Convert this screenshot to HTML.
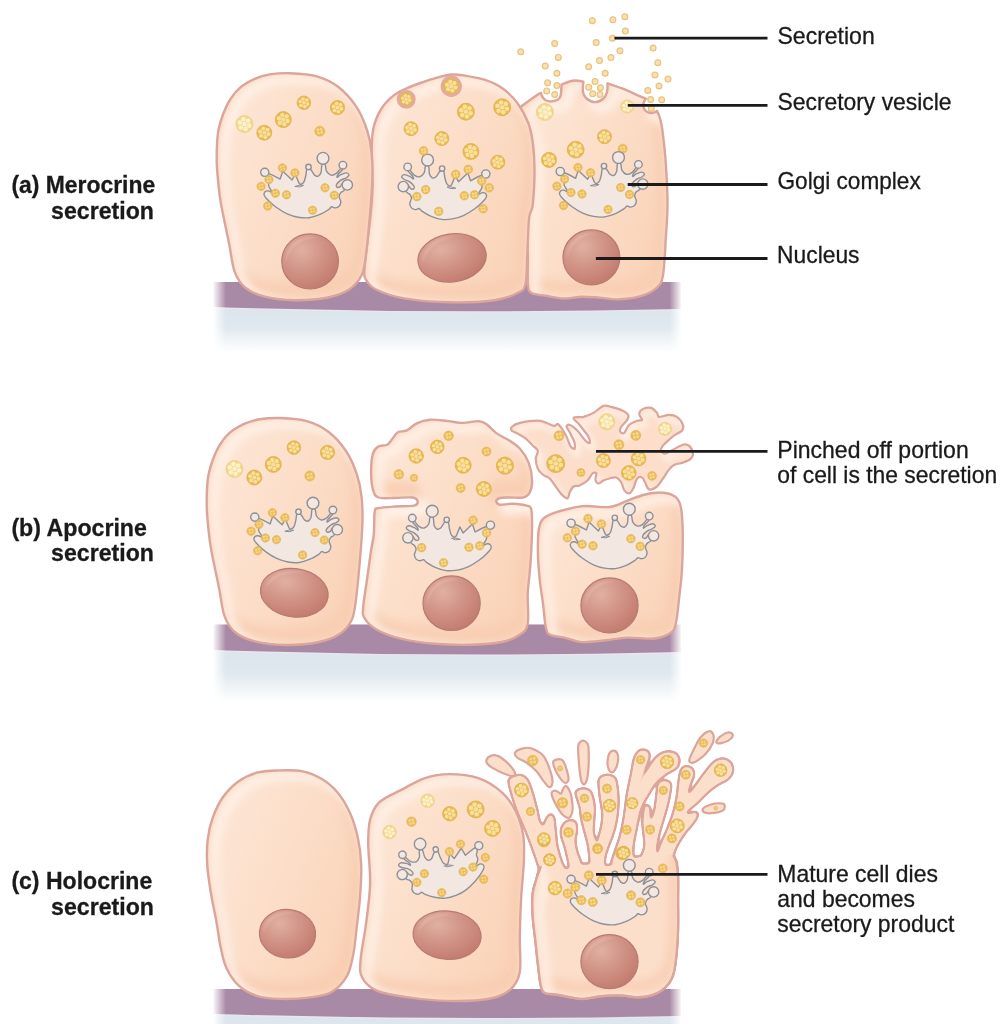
<!DOCTYPE html>
<html><head><meta charset="utf-8"><title>Modes of glandular secretion</title>
<style>
html,body{margin:0;padding:0;background:#fff;}
body{width:1006px;height:1024px;overflow:hidden;font-family:"Liberation Sans",sans-serif;}
svg{display:block;}
text{font-family:"Liberation Sans",sans-serif;fill:#1a1a1a;}
</style></head>
<body>
<svg width="1006" height="1024" viewBox="0 0 1006 1024">

<defs>
  <linearGradient id="blueg" x1="0" y1="0" x2="0" y2="1">
    <stop offset="0" stop-color="#dbe5ec"/>
    <stop offset="0.45" stop-color="#dfe8ee"/>
    <stop offset="1" stop-color="#ffffff"/>
  </linearGradient>
  <linearGradient id="fadeLR" x1="0" y1="0" x2="1" y2="0">
    <stop offset="0" stop-color="#fff" stop-opacity="1"/>
    <stop offset="1" stop-color="#fff" stop-opacity="0"/>
  </linearGradient>
  <linearGradient id="fadeRL" x1="0" y1="0" x2="1" y2="0">
    <stop offset="0" stop-color="#fff" stop-opacity="0"/>
    <stop offset="1" stop-color="#fff" stop-opacity="1"/>
  </linearGradient>
  <radialGradient id="nucg" cx="0.35" cy="0.3" r="0.8">
    <stop offset="0" stop-color="#e0b0a1"/>
    <stop offset="0.5" stop-color="#d09284"/>
    <stop offset="1" stop-color="#c1776c"/>
  </radialGradient>
  <linearGradient id="cellg" x1="0" y1="0" x2="1" y2="0.6">
    <stop offset="0" stop-color="#fde8d9"/>
    <stop offset="0.5" stop-color="#fcdfca"/>
    <stop offset="1" stop-color="#fad4b9"/>
  </linearGradient>
  <filter id="blur1" x="-20%" y="-20%" width="140%" height="140%"><feGaussianBlur stdDeviation="1.2"/></filter>
  <filter id="blur3" x="-20%" y="-20%" width="140%" height="140%"><feGaussianBlur stdDeviation="3"/></filter>
  <filter id="blur4" x="-20%" y="-20%" width="140%" height="140%"><feGaussianBlur stdDeviation="4"/></filter>
  <filter id="outl" filterUnits="userSpaceOnUse" x="470" y="720" width="300" height="304" color-interpolation-filters="sRGB">
    <feGaussianBlur in="SourceAlpha" stdDeviation="1.5" result="b"/>
    <feComponentTransfer in="b" result="outer"><feFuncA type="linear" slope="7" intercept="-1.0"/></feComponentTransfer>
    <feComponentTransfer in="b" result="inner"><feFuncA type="linear" slope="7" intercept="-5.0"/></feComponentTransfer>
    <feFlood flood-color="#dba59b" result="sc"/>
    <feComposite in="sc" in2="outer" operator="in" result="strokeL"/>
    <feFlood flood-color="#fcdfcb" result="fc"/>
    <feComposite in="fc" in2="inner" operator="in" result="fillL"/>
    <feMerge><feMergeNode in="strokeL"/><feMergeNode in="fillL"/></feMerge>
  </filter>
</defs>

<rect x="213.5" y="306" width="467.5" height="46" fill="url(#blueg)"/>
<path d="M213.5,282 L681,282 L681,310.3 Q447.25,315.7 213.5,308.3Z" fill="#ece6f1"/>
<path d="M213.5,282 L681,282 L681,309 Q447.25,314.4 213.5,307Z" fill="#a98aa6"/>
<rect x="212.5" y="280" width="13.5" height="74" fill="url(#fadeLR)"/>
<rect x="669.5" y="280" width="12.5" height="74" fill="url(#fadeRL)"/>
<rect x="213.5" y="649" width="467.5" height="53" fill="url(#blueg)"/>
<path d="M213.5,624.5 L681,624.5 L681,653.3 Q447.25,659.3 213.5,651.3Z" fill="#ece6f1"/>
<path d="M213.5,624.5 L681,624.5 L681,652 Q447.25,658.0 213.5,650Z" fill="#a98aa6"/>
<rect x="212.5" y="622.5" width="13.5" height="81.5" fill="url(#fadeLR)"/>
<rect x="669.5" y="622.5" width="12.5" height="81.5" fill="url(#fadeRL)"/>
<rect x="213.5" y="1013" width="467.5" height="53" fill="url(#blueg)"/>
<path d="M213.5,989 L681,989 L681,1017.3 Q447.25,1022.3 213.5,1015.3Z" fill="#ece6f1"/>
<path d="M213.5,989 L681,989 L681,1016 Q447.25,1021.0 213.5,1014Z" fill="#a98aa6"/>
<rect x="212.5" y="987" width="13.5" height="81" fill="url(#fadeLR)"/>
<rect x="669.5" y="987" width="12.5" height="81" fill="url(#fadeRL)"/>
<defs><path id="c1" d="M519.8,107.5 C519.8,107.5 535.1,96.5 538.6,94.1 C542.1,91.7 541.0,93.0 541.0,93.0 C541.0,93.0 541.7,95.8 542.5,97.0 C543.3,98.2 544.5,99.8 546.0,100.5 C547.5,101.2 549.7,101.5 551.5,101.4 C553.3,101.3 555.5,100.9 557.0,100.0 C558.5,99.1 559.8,98.6 560.5,96.0 C561.2,93.4 561.5,84.5 561.5,84.5 C561.5,84.5 569.0,81.2 572.6,80.7 C576.2,80.2 583.4,81.6 583.4,81.6 C583.4,81.6 582.5,89.2 583.0,92.0 C583.5,94.8 584.5,96.8 586.5,98.5 C588.5,100.2 592.2,102.1 595.0,102.1 C597.8,102.1 601.5,100.2 603.5,98.5 C605.5,96.8 606.3,94.5 607.0,92.0 C607.7,89.5 607.5,83.4 607.5,83.4 C607.5,83.4 620.9,87.9 625.9,89.9 C630.9,91.9 634.5,94.0 637.8,95.4 C641.1,96.9 645.8,98.6 645.8,98.6 C645.8,98.6 643.7,101.8 643.4,103.4 C643.1,105.0 643.1,106.8 643.8,108.2 C644.5,109.7 645.9,111.3 647.4,112.1 C648.9,112.9 651.3,113.1 652.9,112.9 C654.5,112.7 656.9,111.0 656.9,111.0 C656.9,111.0 658.5,113.6 659.3,116.1 C660.1,118.5 661.1,122.5 661.7,125.7 C662.3,128.9 662.3,129.1 663.0,135.2 C663.7,141.3 665.0,150.7 665.7,162.1 C666.5,173.5 667.5,190.8 667.5,203.7 C667.5,216.6 666.5,227.6 665.7,239.5 C665.0,251.4 664.5,267.1 663.0,275.2 C661.5,283.2 660.7,284.2 656.7,287.8 C652.7,291.4 645.3,294.8 638.8,296.7 C632.2,298.6 623.9,299.2 617.4,299.4 C610.9,299.5 605.5,298.1 599.5,297.6 C593.5,297.2 587.6,296.6 581.6,296.7 C575.6,296.8 569.7,298.6 563.7,298.5 C557.7,298.4 551.2,296.7 545.8,295.8 C540.4,294.9 534.5,295.0 531.5,293.1 C528.5,291.2 528.5,290.1 527.9,284.2 C527.3,278.2 528.0,267.8 527.9,257.4 C527.8,247.0 526.5,233.5 527.0,221.6 C527.5,209.7 529.7,197.2 530.6,185.8 C531.5,174.4 532.9,163.0 532.4,153.1 C531.9,143.2 530.0,133.9 527.9,126.3 C525.8,118.7 519.8,107.5 519.8,107.5Z"/><clipPath id="kc1"><use href="#c1"/></clipPath></defs>
<use href="#c1" fill="url(#cellg)"/>
<g clip-path="url(#kc1)" fill="none"><use href="#c1" stroke="#f8ccb0" stroke-width="12" opacity="0.8" filter="url(#blur4)" transform="translate(-3,-11)"/><use href="#c1" stroke="#f9d2b8" stroke-width="7" opacity="0.5" filter="url(#blur3)"/><use href="#c1" stroke="#fff3ea" stroke-width="9" opacity="0.9" filter="url(#blur4)" transform="translate(7,6)"/></g>
<use href="#c1" fill="none" stroke="#dba59b" stroke-width="2.4" stroke-linejoin="round"/>
<defs><path id="c2" d="M451.3,74.5 C447.1,74.8 444.1,75.7 438.7,77.2 C433.3,78.7 424.4,81.6 419.0,83.5 C413.6,85.4 410.2,86.7 406.0,88.6 C401.8,90.5 398.1,91.8 394.0,95.1 C389.9,98.4 384.9,103.0 381.5,108.5 C378.1,114.0 375.0,121.0 373.4,128.2 C371.8,135.4 371.8,141.7 371.6,151.5 C371.5,161.3 372.6,176.8 372.5,187.2 C372.4,197.6 371.4,206.0 370.7,214.1 C370.0,222.2 369.1,226.8 368.1,235.8 C367.1,244.8 364.9,260.9 364.5,268.0 C364.1,275.1 363.5,275.1 365.4,278.7 C367.3,282.3 369.6,286.2 376.1,289.5 C382.7,292.8 392.5,296.3 404.7,298.4 C416.9,300.5 434.6,302.0 449.5,302.3 C464.4,302.6 482.9,301.8 494.2,300.2 C505.5,298.6 512.3,295.7 517.5,293.0 C522.7,290.3 523.9,290.7 525.5,284.1 C527.1,277.6 526.7,264.7 527.3,253.7 C527.9,242.7 528.2,226.0 529.1,217.9 C530.0,209.8 531.8,213.2 532.7,205.1 C533.6,197.0 534.5,179.8 534.5,169.4 C534.5,159.0 533.8,150.3 532.7,142.5 C531.7,134.7 530.7,129.3 528.2,122.8 C525.7,116.2 521.7,108.9 517.5,103.2 C513.3,97.5 508.5,92.7 503.1,88.8 C497.7,84.9 491.8,82.1 485.2,79.9 C478.6,77.7 469.4,76.3 463.8,75.4 C458.2,74.5 455.5,74.2 451.3,74.5Z"/><clipPath id="kc2"><use href="#c2"/></clipPath></defs>
<use href="#c2" fill="url(#cellg)"/>
<g clip-path="url(#kc2)" fill="none"><use href="#c2" stroke="#f8ccb0" stroke-width="12" opacity="0.8" filter="url(#blur4)" transform="translate(-3,-11)"/><use href="#c2" stroke="#f9d2b8" stroke-width="7" opacity="0.5" filter="url(#blur3)"/><use href="#c2" stroke="#fff3ea" stroke-width="9" opacity="0.9" filter="url(#blur4)" transform="translate(7,6)"/></g>
<use href="#c2" fill="none" stroke="#dba59b" stroke-width="2.4" stroke-linejoin="round"/>
<defs><path id="c3" d="M290.1,73.2 C282.2,72.9 275.5,73.5 269.6,74.4 C263.7,75.4 259.7,76.7 254.7,78.9 C249.7,81.2 243.9,84.4 239.8,87.9 C235.7,91.4 232.7,95.3 229.9,99.8 C227.1,104.3 224.8,109.7 222.9,114.7 C221.0,119.7 219.5,125.0 218.5,130.0 C217.5,135.0 217.3,138.8 217.0,144.5 C216.7,150.2 216.6,157.7 216.8,164.4 C217.1,171.2 217.8,178.2 218.5,185.0 C219.2,191.8 219.4,195.2 221.2,205.1 C223.0,215.0 227.1,233.6 229.3,244.7 C231.5,255.8 231.9,264.4 234.6,271.6 C237.3,278.8 240.3,283.5 245.4,287.7 C250.5,291.9 256.6,294.5 265.0,296.6 C273.4,298.7 285.1,300.1 295.5,300.2 C305.9,300.3 318.8,299.3 327.7,297.5 C336.6,295.7 343.4,293.2 349.1,289.5 C354.8,285.8 358.9,281.1 361.7,275.1 C364.5,269.1 364.8,263.2 366.1,253.7 C367.4,244.2 368.6,230.5 369.7,217.9 C370.8,205.3 372.1,189.4 372.4,178.3 C372.7,167.2 372.4,159.6 371.5,151.5 C370.6,143.4 369.5,137.5 367.0,130.0 C364.5,122.5 361.1,113.9 356.3,106.7 C351.5,99.5 345.0,92.1 338.4,87.0 C331.8,81.9 324.9,78.6 316.9,76.3 C308.8,74.0 298.0,73.5 290.1,73.2Z"/><clipPath id="kc3"><use href="#c3"/></clipPath></defs>
<use href="#c3" fill="url(#cellg)"/>
<g clip-path="url(#kc3)" fill="none"><use href="#c3" stroke="#f8ccb0" stroke-width="12" opacity="0.8" filter="url(#blur4)" transform="translate(-3,-11)"/><use href="#c3" stroke="#f9d2b8" stroke-width="7" opacity="0.5" filter="url(#blur3)"/><use href="#c3" stroke="#fff3ea" stroke-width="9" opacity="0.9" filter="url(#blur4)" transform="translate(7,6)"/></g>
<use href="#c3" fill="none" stroke="#dba59b" stroke-width="2.4" stroke-linejoin="round"/>
<circle cx="303.9" cy="102.8" r="6.8" fill="#e7ba52" stroke="#dfb04c" stroke-width="0.8"/>
<circle cx="303.9" cy="102.8" r="1.8" fill="#f8df9c"/>
<circle cx="307.7" cy="104.0" r="1.8" fill="#f8df9c"/>
<circle cx="304.8" cy="106.6" r="1.8" fill="#f8df9c"/>
<circle cx="301.0" cy="105.5" r="1.8" fill="#f8df9c"/>
<circle cx="300.1" cy="101.6" r="1.8" fill="#f8df9c"/>
<circle cx="303.0" cy="99.0" r="1.8" fill="#f8df9c"/>
<circle cx="306.8" cy="100.1" r="1.8" fill="#f8df9c"/>
<circle cx="337.5" cy="107.6" r="7.1" fill="#e7ba52" stroke="#dfb04c" stroke-width="0.8"/>
<circle cx="337.5" cy="107.6" r="1.9" fill="#f8df9c"/>
<circle cx="341.4" cy="108.8" r="1.9" fill="#f8df9c"/>
<circle cx="338.4" cy="111.6" r="1.9" fill="#f8df9c"/>
<circle cx="334.5" cy="110.4" r="1.9" fill="#f8df9c"/>
<circle cx="333.6" cy="106.4" r="1.9" fill="#f8df9c"/>
<circle cx="336.6" cy="103.6" r="1.9" fill="#f8df9c"/>
<circle cx="340.5" cy="104.8" r="1.9" fill="#f8df9c"/>
<circle cx="283.3" cy="119.6" r="8.0" fill="#e7ba52" stroke="#dfb04c" stroke-width="0.8"/>
<circle cx="283.3" cy="119.6" r="2.2" fill="#f8df9c"/>
<circle cx="287.7" cy="121.0" r="2.2" fill="#f8df9c"/>
<circle cx="284.3" cy="124.1" r="2.2" fill="#f8df9c"/>
<circle cx="279.9" cy="122.8" r="2.2" fill="#f8df9c"/>
<circle cx="278.9" cy="118.2" r="2.2" fill="#f8df9c"/>
<circle cx="282.3" cy="115.1" r="2.2" fill="#f8df9c"/>
<circle cx="286.7" cy="116.4" r="2.2" fill="#f8df9c"/>
<circle cx="244.5" cy="124.1" r="8.5" fill="#f1d68c" stroke="#ecd088" stroke-width="0.8"/>
<circle cx="244.5" cy="124.1" r="2.3" fill="#fcf0c8"/>
<circle cx="249.2" cy="125.6" r="2.3" fill="#fcf0c8"/>
<circle cx="245.6" cy="128.9" r="2.3" fill="#fcf0c8"/>
<circle cx="240.9" cy="127.5" r="2.3" fill="#fcf0c8"/>
<circle cx="239.8" cy="122.6" r="2.3" fill="#fcf0c8"/>
<circle cx="243.4" cy="119.3" r="2.3" fill="#fcf0c8"/>
<circle cx="248.1" cy="120.7" r="2.3" fill="#fcf0c8"/>
<circle cx="264.3" cy="132.7" r="7.5" fill="#e7ba52" stroke="#dfb04c" stroke-width="0.8"/>
<circle cx="264.3" cy="132.7" r="2.0" fill="#f8df9c"/>
<circle cx="268.5" cy="134.0" r="2.0" fill="#f8df9c"/>
<circle cx="265.3" cy="136.9" r="2.0" fill="#f8df9c"/>
<circle cx="261.1" cy="135.7" r="2.0" fill="#f8df9c"/>
<circle cx="260.1" cy="131.4" r="2.0" fill="#f8df9c"/>
<circle cx="263.3" cy="128.5" r="2.0" fill="#f8df9c"/>
<circle cx="267.5" cy="129.7" r="2.0" fill="#f8df9c"/>
<circle cx="319.8" cy="131.2" r="5.0" fill="#eabc5a" stroke="#e3b352" stroke-width="0.6"/>
<circle cx="321.7" cy="132.5" r="1.4" fill="#f6d88c"/>
<circle cx="318.5" cy="133.1" r="1.4" fill="#f6d88c"/>
<circle cx="317.9" cy="129.9" r="1.4" fill="#f6d88c"/>
<circle cx="321.1" cy="129.3" r="1.4" fill="#f6d88c"/>
<g transform="translate(259.7,152.4) scale(1.0,1.0)"><path d="M8.9,21.2 C11.0,21.5 20.4,26.7 20.4,26.7 C20.4,26.7 23.1,18.8 23.1,18.8 C23.1,18.8 32.4,27.6 32.4,27.6 C32.4,27.6 35.7,21.6 35.7,21.6 C35.7,21.6 38.5,29.2 39.5,30.9 C40.5,32.6 40.9,32.0 41.7,31.7 C42.5,31.4 43.7,30.6 44.4,29.2 C45.1,27.8 45.6,25.2 46.1,23.2 C46.6,21.2 46.4,18.2 47.2,17.2 C48.0,16.2 49.7,16.3 51.0,17.2 C52.3,18.1 53.5,21.6 54.8,22.7 C56.1,23.8 57.5,24.3 58.6,23.8 C59.7,23.3 60.8,21.8 61.4,19.9 C62.0,18.0 61.6,13.6 62.3,12.3 C63.0,11.0 64.8,11.2 65.5,12.3 C66.2,13.4 65.8,17.1 66.8,18.8 C67.8,20.5 69.5,22.3 71.2,22.7 C72.9,23.1 75.1,22.1 76.7,21.0 C78.3,19.9 80.1,16.7 81.1,16.1 C82.1,15.5 83.2,16.2 82.7,17.2 C82.2,18.2 79.2,20.8 78.3,22.1 C77.4,23.4 77.0,24.9 77.5,24.9 C78.0,24.9 79.6,23.0 81.1,22.3 C82.6,21.6 85.1,20.4 86.5,20.5 C87.9,20.6 89.3,21.9 89.3,22.7 C89.3,23.5 87.9,24.5 86.5,25.4 C85.1,26.2 82.7,26.7 81.1,27.8 C79.5,28.9 77.6,30.9 76.9,32.0 C76.2,33.1 76.7,34.3 77.2,34.7 C77.8,35.1 79.2,35.1 80.2,34.5 C81.2,33.9 82.5,30.4 83.2,30.9 C83.9,31.4 84.9,35.8 84.6,37.4 C84.2,39.0 82.0,39.1 81.1,40.2 C80.2,41.3 79.4,42.5 79.4,44.0 C79.4,45.5 81.1,47.9 81.1,49.5 C81.1,51.1 80.3,52.8 79.4,53.8 C78.5,54.8 76.9,55.4 75.6,55.5 C74.3,55.6 72.9,54.1 71.8,54.4 C70.7,54.7 70.9,55.8 69.0,57.1 C67.1,58.4 63.6,60.6 60.3,62.0 C57.0,63.4 52.9,64.8 49.3,65.3 C45.6,65.8 42.0,65.4 38.4,64.8 C34.8,64.2 31.1,63.1 27.5,61.5 C23.9,59.9 19.6,57.1 16.5,54.9 C13.4,52.7 10.9,50.4 8.9,48.4 C6.9,46.4 5.1,44.4 4.5,42.9 C3.9,41.4 4.5,40.3 5.1,39.6 C5.7,38.9 7.0,38.4 8.3,38.5 C9.6,38.6 12.3,40.6 12.7,40.2 C13.1,39.8 11.1,37.5 10.5,36.3 C9.9,35.1 9.1,34.4 8.9,33.1 C8.7,31.8 9.6,30.1 9.4,28.7 C9.2,27.3 7.9,26.1 7.8,24.9 C7.7,23.6 6.8,20.9 8.9,21.2Z" fill="#f3e7e1" stroke="#8d9097" stroke-width="1.4" stroke-linejoin="round"/><circle cx="5.06" cy="19.9" r="4.1" fill="#f3e7e1" stroke="#8d9097" stroke-width="1.4"/><circle cx="48.8" cy="14.5" r="2.7" fill="#f3e7e1" stroke="#8d9097" stroke-width="1.4"/><circle cx="63.3" cy="5.9" r="5.9" fill="#f3e7e1" stroke="#8d9097" stroke-width="1.4"/><circle cx="83.2" cy="12.8" r="3.8" fill="#f3e7e1" stroke="#8d9097" stroke-width="1.4"/><circle cx="87.6" cy="32.5" r="5.2" fill="#f3e7e1" stroke="#8d9097" stroke-width="1.4"/><path d="M35.1,34.1 q4.5,-2 8.8,-1.1 q-3.2,2.4 -8.8,1.1z" fill="none" stroke="#8d9097" stroke-width="1"/></g>
<circle cx="282.4" cy="167.9" r="4.2" fill="#eabc5a" stroke="#e3b352" stroke-width="0.6"/>
<circle cx="284.0" cy="169.0" r="1.1" fill="#f6d88c"/>
<circle cx="281.3" cy="169.5" r="1.1" fill="#f6d88c"/>
<circle cx="280.8" cy="166.8" r="1.1" fill="#f6d88c"/>
<circle cx="283.5" cy="166.3" r="1.1" fill="#f6d88c"/>
<circle cx="294.9" cy="172.9" r="4.2" fill="#eabc5a" stroke="#e3b352" stroke-width="0.6"/>
<circle cx="296.5" cy="174.0" r="1.1" fill="#f6d88c"/>
<circle cx="293.8" cy="174.5" r="1.1" fill="#f6d88c"/>
<circle cx="293.3" cy="171.8" r="1.1" fill="#f6d88c"/>
<circle cx="296.0" cy="171.3" r="1.1" fill="#f6d88c"/>
<circle cx="269.0" cy="179.6" r="4.2" fill="#eabc5a" stroke="#e3b352" stroke-width="0.6"/>
<circle cx="270.6" cy="180.7" r="1.1" fill="#f6d88c"/>
<circle cx="267.9" cy="181.2" r="1.1" fill="#f6d88c"/>
<circle cx="267.4" cy="178.5" r="1.1" fill="#f6d88c"/>
<circle cx="270.1" cy="178.0" r="1.1" fill="#f6d88c"/>
<circle cx="261.1" cy="186.4" r="4.2" fill="#eabc5a" stroke="#e3b352" stroke-width="0.6"/>
<circle cx="262.7" cy="187.5" r="1.1" fill="#f6d88c"/>
<circle cx="260.0" cy="188.0" r="1.1" fill="#f6d88c"/>
<circle cx="259.5" cy="185.3" r="1.1" fill="#f6d88c"/>
<circle cx="262.2" cy="184.8" r="1.1" fill="#f6d88c"/>
<circle cx="275.4" cy="193.2" r="4.2" fill="#eabc5a" stroke="#e3b352" stroke-width="0.6"/>
<circle cx="277.0" cy="194.3" r="1.1" fill="#f6d88c"/>
<circle cx="274.3" cy="194.8" r="1.1" fill="#f6d88c"/>
<circle cx="273.8" cy="192.1" r="1.1" fill="#f6d88c"/>
<circle cx="276.5" cy="191.6" r="1.1" fill="#f6d88c"/>
<circle cx="286.5" cy="194.8" r="4.2" fill="#eabc5a" stroke="#e3b352" stroke-width="0.6"/>
<circle cx="288.1" cy="195.9" r="1.1" fill="#f6d88c"/>
<circle cx="285.4" cy="196.4" r="1.1" fill="#f6d88c"/>
<circle cx="284.9" cy="193.7" r="1.1" fill="#f6d88c"/>
<circle cx="287.6" cy="193.2" r="1.1" fill="#f6d88c"/>
<circle cx="267.7" cy="206.0" r="4.2" fill="#eabc5a" stroke="#e3b352" stroke-width="0.6"/>
<circle cx="269.3" cy="207.1" r="1.1" fill="#f6d88c"/>
<circle cx="266.6" cy="207.6" r="1.1" fill="#f6d88c"/>
<circle cx="266.1" cy="204.9" r="1.1" fill="#f6d88c"/>
<circle cx="268.8" cy="204.4" r="1.1" fill="#f6d88c"/>
<circle cx="325.0" cy="187.8" r="4.2" fill="#eabc5a" stroke="#e3b352" stroke-width="0.6"/>
<circle cx="326.6" cy="188.9" r="1.1" fill="#f6d88c"/>
<circle cx="323.9" cy="189.4" r="1.1" fill="#f6d88c"/>
<circle cx="323.4" cy="186.7" r="1.1" fill="#f6d88c"/>
<circle cx="326.1" cy="186.2" r="1.1" fill="#f6d88c"/>
<circle cx="334.3" cy="195.3" r="4.2" fill="#eabc5a" stroke="#e3b352" stroke-width="0.6"/>
<circle cx="335.9" cy="196.4" r="1.1" fill="#f6d88c"/>
<circle cx="333.2" cy="196.9" r="1.1" fill="#f6d88c"/>
<circle cx="332.7" cy="194.2" r="1.1" fill="#f6d88c"/>
<circle cx="335.4" cy="193.7" r="1.1" fill="#f6d88c"/>
<circle cx="312.6" cy="210.2" r="4.2" fill="#eabc5a" stroke="#e3b352" stroke-width="0.6"/>
<circle cx="314.2" cy="211.3" r="1.1" fill="#f6d88c"/>
<circle cx="311.5" cy="211.8" r="1.1" fill="#f6d88c"/>
<circle cx="311.0" cy="209.1" r="1.1" fill="#f6d88c"/>
<circle cx="313.7" cy="208.6" r="1.1" fill="#f6d88c"/>
<g transform="translate(310.1,261.4) rotate(0)"><ellipse rx="28.3" ry="27.6" fill="url(#nucg)" stroke="#b57b72" stroke-width="1.2"/><path d="M-24.3,1.4 A24.9,24.3 0 0 1 7.1,-23.7 A29.7,29.0 0 0 0 -24.3,1.4Z" fill="#e9bdb0" opacity="0.7" filter="url(#blur1)"/></g>
<circle cx="406.2" cy="99.2" r="8.0" fill="#f8dcc6" stroke="#e4aaa0" stroke-width="3"/>
<circle cx="406.2" cy="99.2" r="6.4" fill="#e7ba52" stroke="#dfb04c" stroke-width="0.8"/>
<circle cx="406.2" cy="99.2" r="1.7" fill="#f8df9c"/>
<circle cx="409.7" cy="100.3" r="1.7" fill="#f8df9c"/>
<circle cx="407.0" cy="102.8" r="1.7" fill="#f8df9c"/>
<circle cx="403.5" cy="101.7" r="1.7" fill="#f8df9c"/>
<circle cx="402.7" cy="98.1" r="1.7" fill="#f8df9c"/>
<circle cx="405.4" cy="95.6" r="1.7" fill="#f8df9c"/>
<circle cx="408.9" cy="96.7" r="1.7" fill="#f8df9c"/>
<circle cx="451.3" cy="86.2" r="9.2" fill="#f8dcc6" stroke="#e4aaa0" stroke-width="3"/>
<circle cx="451.3" cy="86.2" r="7.6" fill="#e7ba52" stroke="#dfb04c" stroke-width="0.8"/>
<circle cx="451.3" cy="86.2" r="2.1" fill="#f8df9c"/>
<circle cx="455.5" cy="87.5" r="2.1" fill="#f8df9c"/>
<circle cx="452.3" cy="90.5" r="2.1" fill="#f8df9c"/>
<circle cx="448.1" cy="89.2" r="2.1" fill="#f8df9c"/>
<circle cx="447.1" cy="84.9" r="2.1" fill="#f8df9c"/>
<circle cx="450.3" cy="81.9" r="2.1" fill="#f8df9c"/>
<circle cx="454.5" cy="83.2" r="2.1" fill="#f8df9c"/>
<circle cx="465.9" cy="111.7" r="8.5" fill="#e7ba52" stroke="#dfb04c" stroke-width="0.8"/>
<circle cx="465.9" cy="111.7" r="2.3" fill="#f8df9c"/>
<circle cx="470.6" cy="113.2" r="2.3" fill="#f8df9c"/>
<circle cx="467.0" cy="116.5" r="2.3" fill="#f8df9c"/>
<circle cx="462.3" cy="115.1" r="2.3" fill="#f8df9c"/>
<circle cx="461.2" cy="110.2" r="2.3" fill="#f8df9c"/>
<circle cx="464.8" cy="106.9" r="2.3" fill="#f8df9c"/>
<circle cx="469.5" cy="108.3" r="2.3" fill="#f8df9c"/>
<circle cx="502.2" cy="107.3" r="8.5" fill="#e7ba52" stroke="#dfb04c" stroke-width="0.8"/>
<circle cx="502.2" cy="107.3" r="2.3" fill="#f8df9c"/>
<circle cx="506.9" cy="108.8" r="2.3" fill="#f8df9c"/>
<circle cx="503.3" cy="112.1" r="2.3" fill="#f8df9c"/>
<circle cx="498.6" cy="110.7" r="2.3" fill="#f8df9c"/>
<circle cx="497.5" cy="105.8" r="2.3" fill="#f8df9c"/>
<circle cx="501.1" cy="102.5" r="2.3" fill="#f8df9c"/>
<circle cx="505.8" cy="103.9" r="2.3" fill="#f8df9c"/>
<circle cx="411.0" cy="128.7" r="7.0" fill="#e7ba52" stroke="#dfb04c" stroke-width="0.8"/>
<circle cx="411.0" cy="128.7" r="1.9" fill="#f8df9c"/>
<circle cx="414.9" cy="129.9" r="1.9" fill="#f8df9c"/>
<circle cx="411.9" cy="132.7" r="1.9" fill="#f8df9c"/>
<circle cx="408.0" cy="131.5" r="1.9" fill="#f8df9c"/>
<circle cx="407.1" cy="127.5" r="1.9" fill="#f8df9c"/>
<circle cx="410.1" cy="124.7" r="1.9" fill="#f8df9c"/>
<circle cx="414.0" cy="125.9" r="1.9" fill="#f8df9c"/>
<circle cx="441.8" cy="138.6" r="7.0" fill="#e7ba52" stroke="#dfb04c" stroke-width="0.8"/>
<circle cx="441.8" cy="138.6" r="1.9" fill="#f8df9c"/>
<circle cx="445.7" cy="139.8" r="1.9" fill="#f8df9c"/>
<circle cx="442.7" cy="142.6" r="1.9" fill="#f8df9c"/>
<circle cx="438.8" cy="141.4" r="1.9" fill="#f8df9c"/>
<circle cx="437.9" cy="137.4" r="1.9" fill="#f8df9c"/>
<circle cx="440.9" cy="134.6" r="1.9" fill="#f8df9c"/>
<circle cx="444.8" cy="135.8" r="1.9" fill="#f8df9c"/>
<circle cx="470.9" cy="151.5" r="8.0" fill="#e7ba52" stroke="#dfb04c" stroke-width="0.8"/>
<circle cx="470.9" cy="151.5" r="2.2" fill="#f8df9c"/>
<circle cx="475.3" cy="152.9" r="2.2" fill="#f8df9c"/>
<circle cx="471.9" cy="156.0" r="2.2" fill="#f8df9c"/>
<circle cx="467.5" cy="154.7" r="2.2" fill="#f8df9c"/>
<circle cx="466.5" cy="150.1" r="2.2" fill="#f8df9c"/>
<circle cx="469.9" cy="147.0" r="2.2" fill="#f8df9c"/>
<circle cx="474.3" cy="148.3" r="2.2" fill="#f8df9c"/>
<circle cx="497.8" cy="162.2" r="7.0" fill="#e7ba52" stroke="#dfb04c" stroke-width="0.8"/>
<circle cx="497.8" cy="162.2" r="1.9" fill="#f8df9c"/>
<circle cx="501.7" cy="163.4" r="1.9" fill="#f8df9c"/>
<circle cx="498.7" cy="166.2" r="1.9" fill="#f8df9c"/>
<circle cx="494.8" cy="165.0" r="1.9" fill="#f8df9c"/>
<circle cx="493.9" cy="161.0" r="1.9" fill="#f8df9c"/>
<circle cx="496.9" cy="158.2" r="1.9" fill="#f8df9c"/>
<circle cx="500.8" cy="159.4" r="1.9" fill="#f8df9c"/>
<g transform="translate(490.9,154.1) scale(-1.0,1.0)"><path d="M8.9,21.2 C11.0,21.5 20.4,26.7 20.4,26.7 C20.4,26.7 23.1,18.8 23.1,18.8 C23.1,18.8 32.4,27.6 32.4,27.6 C32.4,27.6 35.7,21.6 35.7,21.6 C35.7,21.6 38.5,29.2 39.5,30.9 C40.5,32.6 40.9,32.0 41.7,31.7 C42.5,31.4 43.7,30.6 44.4,29.2 C45.1,27.8 45.6,25.2 46.1,23.2 C46.6,21.2 46.4,18.2 47.2,17.2 C48.0,16.2 49.7,16.3 51.0,17.2 C52.3,18.1 53.5,21.6 54.8,22.7 C56.1,23.8 57.5,24.3 58.6,23.8 C59.7,23.3 60.8,21.8 61.4,19.9 C62.0,18.0 61.6,13.6 62.3,12.3 C63.0,11.0 64.8,11.2 65.5,12.3 C66.2,13.4 65.8,17.1 66.8,18.8 C67.8,20.5 69.5,22.3 71.2,22.7 C72.9,23.1 75.1,22.1 76.7,21.0 C78.3,19.9 80.1,16.7 81.1,16.1 C82.1,15.5 83.2,16.2 82.7,17.2 C82.2,18.2 79.2,20.8 78.3,22.1 C77.4,23.4 77.0,24.9 77.5,24.9 C78.0,24.9 79.6,23.0 81.1,22.3 C82.6,21.6 85.1,20.4 86.5,20.5 C87.9,20.6 89.3,21.9 89.3,22.7 C89.3,23.5 87.9,24.5 86.5,25.4 C85.1,26.2 82.7,26.7 81.1,27.8 C79.5,28.9 77.6,30.9 76.9,32.0 C76.2,33.1 76.7,34.3 77.2,34.7 C77.8,35.1 79.2,35.1 80.2,34.5 C81.2,33.9 82.5,30.4 83.2,30.9 C83.9,31.4 84.9,35.8 84.6,37.4 C84.2,39.0 82.0,39.1 81.1,40.2 C80.2,41.3 79.4,42.5 79.4,44.0 C79.4,45.5 81.1,47.9 81.1,49.5 C81.1,51.1 80.3,52.8 79.4,53.8 C78.5,54.8 76.9,55.4 75.6,55.5 C74.3,55.6 72.9,54.1 71.8,54.4 C70.7,54.7 70.9,55.8 69.0,57.1 C67.1,58.4 63.6,60.6 60.3,62.0 C57.0,63.4 52.9,64.8 49.3,65.3 C45.6,65.8 42.0,65.4 38.4,64.8 C34.8,64.2 31.1,63.1 27.5,61.5 C23.9,59.9 19.6,57.1 16.5,54.9 C13.4,52.7 10.9,50.4 8.9,48.4 C6.9,46.4 5.1,44.4 4.5,42.9 C3.9,41.4 4.5,40.3 5.1,39.6 C5.7,38.9 7.0,38.4 8.3,38.5 C9.6,38.6 12.3,40.6 12.7,40.2 C13.1,39.8 11.1,37.5 10.5,36.3 C9.9,35.1 9.1,34.4 8.9,33.1 C8.7,31.8 9.6,30.1 9.4,28.7 C9.2,27.3 7.9,26.1 7.8,24.9 C7.7,23.6 6.8,20.9 8.9,21.2Z" fill="#f3e7e1" stroke="#8d9097" stroke-width="1.4" stroke-linejoin="round"/><circle cx="5.06" cy="19.9" r="4.1" fill="#f3e7e1" stroke="#8d9097" stroke-width="1.4"/><circle cx="48.8" cy="14.5" r="2.7" fill="#f3e7e1" stroke="#8d9097" stroke-width="1.4"/><circle cx="63.3" cy="5.9" r="5.9" fill="#f3e7e1" stroke="#8d9097" stroke-width="1.4"/><circle cx="83.2" cy="12.8" r="3.8" fill="#f3e7e1" stroke="#8d9097" stroke-width="1.4"/><circle cx="87.6" cy="32.5" r="5.2" fill="#f3e7e1" stroke="#8d9097" stroke-width="1.4"/><path d="M35.1,34.1 q4.5,-2 8.8,-1.1 q-3.2,2.4 -8.8,1.1z" fill="none" stroke="#8d9097" stroke-width="1"/></g>
<circle cx="423.5" cy="150.9" r="4.3" fill="#eabc5a" stroke="#e3b352" stroke-width="0.6"/>
<circle cx="425.1" cy="152.0" r="1.2" fill="#f6d88c"/>
<circle cx="422.4" cy="152.5" r="1.2" fill="#f6d88c"/>
<circle cx="421.9" cy="149.8" r="1.2" fill="#f6d88c"/>
<circle cx="424.6" cy="149.3" r="1.2" fill="#f6d88c"/>
<circle cx="468.2" cy="169.4" r="4.3" fill="#eabc5a" stroke="#e3b352" stroke-width="0.6"/>
<circle cx="469.8" cy="170.5" r="1.2" fill="#f6d88c"/>
<circle cx="467.1" cy="171.0" r="1.2" fill="#f6d88c"/>
<circle cx="466.6" cy="168.3" r="1.2" fill="#f6d88c"/>
<circle cx="469.3" cy="167.8" r="1.2" fill="#f6d88c"/>
<circle cx="455.7" cy="174.4" r="4.3" fill="#eabc5a" stroke="#e3b352" stroke-width="0.6"/>
<circle cx="457.3" cy="175.5" r="1.2" fill="#f6d88c"/>
<circle cx="454.6" cy="176.0" r="1.2" fill="#f6d88c"/>
<circle cx="454.1" cy="173.3" r="1.2" fill="#f6d88c"/>
<circle cx="456.8" cy="172.8" r="1.2" fill="#f6d88c"/>
<circle cx="481.7" cy="181.0" r="4.3" fill="#eabc5a" stroke="#e3b352" stroke-width="0.6"/>
<circle cx="483.3" cy="182.1" r="1.2" fill="#f6d88c"/>
<circle cx="480.6" cy="182.6" r="1.2" fill="#f6d88c"/>
<circle cx="480.1" cy="179.9" r="1.2" fill="#f6d88c"/>
<circle cx="482.8" cy="179.4" r="1.2" fill="#f6d88c"/>
<circle cx="489.2" cy="187.8" r="4.3" fill="#eabc5a" stroke="#e3b352" stroke-width="0.6"/>
<circle cx="490.8" cy="188.9" r="1.2" fill="#f6d88c"/>
<circle cx="488.1" cy="189.4" r="1.2" fill="#f6d88c"/>
<circle cx="487.6" cy="186.7" r="1.2" fill="#f6d88c"/>
<circle cx="490.3" cy="186.2" r="1.2" fill="#f6d88c"/>
<circle cx="425.7" cy="189.6" r="4.3" fill="#eabc5a" stroke="#e3b352" stroke-width="0.6"/>
<circle cx="427.3" cy="190.7" r="1.2" fill="#f6d88c"/>
<circle cx="424.6" cy="191.2" r="1.2" fill="#f6d88c"/>
<circle cx="424.1" cy="188.5" r="1.2" fill="#f6d88c"/>
<circle cx="426.8" cy="188.0" r="1.2" fill="#f6d88c"/>
<circle cx="416.9" cy="196.6" r="4.3" fill="#eabc5a" stroke="#e3b352" stroke-width="0.6"/>
<circle cx="418.5" cy="197.7" r="1.2" fill="#f6d88c"/>
<circle cx="415.8" cy="198.2" r="1.2" fill="#f6d88c"/>
<circle cx="415.3" cy="195.5" r="1.2" fill="#f6d88c"/>
<circle cx="418.0" cy="195.0" r="1.2" fill="#f6d88c"/>
<circle cx="464.3" cy="195.8" r="4.3" fill="#eabc5a" stroke="#e3b352" stroke-width="0.6"/>
<circle cx="465.9" cy="196.9" r="1.2" fill="#f6d88c"/>
<circle cx="463.2" cy="197.4" r="1.2" fill="#f6d88c"/>
<circle cx="462.7" cy="194.7" r="1.2" fill="#f6d88c"/>
<circle cx="465.4" cy="194.2" r="1.2" fill="#f6d88c"/>
<circle cx="474.5" cy="194.8" r="4.3" fill="#eabc5a" stroke="#e3b352" stroke-width="0.6"/>
<circle cx="476.1" cy="195.9" r="1.2" fill="#f6d88c"/>
<circle cx="473.4" cy="196.4" r="1.2" fill="#f6d88c"/>
<circle cx="472.9" cy="193.7" r="1.2" fill="#f6d88c"/>
<circle cx="475.6" cy="193.2" r="1.2" fill="#f6d88c"/>
<circle cx="483.1" cy="208.7" r="4.3" fill="#eabc5a" stroke="#e3b352" stroke-width="0.6"/>
<circle cx="484.7" cy="209.8" r="1.2" fill="#f6d88c"/>
<circle cx="482.0" cy="210.3" r="1.2" fill="#f6d88c"/>
<circle cx="481.5" cy="207.6" r="1.2" fill="#f6d88c"/>
<circle cx="484.2" cy="207.1" r="1.2" fill="#f6d88c"/>
<circle cx="438.7" cy="211.4" r="4.3" fill="#eabc5a" stroke="#e3b352" stroke-width="0.6"/>
<circle cx="440.3" cy="212.5" r="1.2" fill="#f6d88c"/>
<circle cx="437.6" cy="213.0" r="1.2" fill="#f6d88c"/>
<circle cx="437.1" cy="210.3" r="1.2" fill="#f6d88c"/>
<circle cx="439.8" cy="209.8" r="1.2" fill="#f6d88c"/>
<g transform="translate(452.1,257.8) rotate(-8)"><ellipse rx="34.3" ry="24.0" fill="url(#nucg)" stroke="#b57b72" stroke-width="1.2"/><path d="M-29.5,1.2 A30.2,21.1 0 0 1 8.6,-20.6 A36.0,25.2 0 0 0 -29.5,1.2Z" fill="#e9bdb0" opacity="0.7" filter="url(#blur1)"/></g>
<circle cx="544.9" cy="112.0" r="8.5" fill="#f1d68c" stroke="#ecd088" stroke-width="0.8"/>
<circle cx="544.9" cy="112.0" r="2.3" fill="#fcf0c8"/>
<circle cx="549.6" cy="113.5" r="2.3" fill="#fcf0c8"/>
<circle cx="546.0" cy="116.8" r="2.3" fill="#fcf0c8"/>
<circle cx="541.3" cy="115.4" r="2.3" fill="#fcf0c8"/>
<circle cx="540.2" cy="110.5" r="2.3" fill="#fcf0c8"/>
<circle cx="543.8" cy="107.2" r="2.3" fill="#fcf0c8"/>
<circle cx="548.5" cy="108.6" r="2.3" fill="#fcf0c8"/>
<circle cx="627.2" cy="106.6" r="6.5" fill="#f1d68c" stroke="#ecd088" stroke-width="0.8"/>
<circle cx="627.2" cy="106.6" r="1.8" fill="#fcf0c8"/>
<circle cx="630.8" cy="107.7" r="1.8" fill="#fcf0c8"/>
<circle cx="628.0" cy="110.3" r="1.8" fill="#fcf0c8"/>
<circle cx="624.4" cy="109.2" r="1.8" fill="#fcf0c8"/>
<circle cx="623.6" cy="105.5" r="1.8" fill="#fcf0c8"/>
<circle cx="626.4" cy="102.9" r="1.8" fill="#fcf0c8"/>
<circle cx="630.0" cy="104.0" r="1.8" fill="#fcf0c8"/>
<circle cx="604.5" cy="136.7" r="7.0" fill="#e7ba52" stroke="#dfb04c" stroke-width="0.8"/>
<circle cx="604.5" cy="136.7" r="1.9" fill="#f8df9c"/>
<circle cx="608.4" cy="137.9" r="1.9" fill="#f8df9c"/>
<circle cx="605.4" cy="140.7" r="1.9" fill="#f8df9c"/>
<circle cx="601.5" cy="139.5" r="1.9" fill="#f8df9c"/>
<circle cx="600.6" cy="135.5" r="1.9" fill="#f8df9c"/>
<circle cx="603.6" cy="132.7" r="1.9" fill="#f8df9c"/>
<circle cx="607.5" cy="133.9" r="1.9" fill="#f8df9c"/>
<circle cx="575.7" cy="149.6" r="8.4" fill="#e7ba52" stroke="#dfb04c" stroke-width="0.8"/>
<circle cx="575.7" cy="149.6" r="2.3" fill="#f8df9c"/>
<circle cx="580.4" cy="151.0" r="2.3" fill="#f8df9c"/>
<circle cx="576.8" cy="154.4" r="2.3" fill="#f8df9c"/>
<circle cx="572.1" cy="152.9" r="2.3" fill="#f8df9c"/>
<circle cx="571.0" cy="148.2" r="2.3" fill="#f8df9c"/>
<circle cx="574.6" cy="144.8" r="2.3" fill="#f8df9c"/>
<circle cx="579.3" cy="146.3" r="2.3" fill="#f8df9c"/>
<circle cx="549.0" cy="159.9" r="7.5" fill="#e7ba52" stroke="#dfb04c" stroke-width="0.8"/>
<circle cx="549.0" cy="159.9" r="2.0" fill="#f8df9c"/>
<circle cx="553.2" cy="161.2" r="2.0" fill="#f8df9c"/>
<circle cx="550.0" cy="164.1" r="2.0" fill="#f8df9c"/>
<circle cx="545.8" cy="162.9" r="2.0" fill="#f8df9c"/>
<circle cx="544.8" cy="158.6" r="2.0" fill="#f8df9c"/>
<circle cx="548.0" cy="155.7" r="2.0" fill="#f8df9c"/>
<circle cx="552.2" cy="156.9" r="2.0" fill="#f8df9c"/>
<circle cx="622.7" cy="148.7" r="4.5" fill="#eabc5a" stroke="#e3b352" stroke-width="0.6"/>
<circle cx="624.4" cy="149.8" r="1.2" fill="#f6d88c"/>
<circle cx="621.6" cy="150.4" r="1.2" fill="#f6d88c"/>
<circle cx="621.0" cy="147.6" r="1.2" fill="#f6d88c"/>
<circle cx="623.8" cy="147.0" r="1.2" fill="#f6d88c"/>
<g transform="translate(555.2,151.6) scale(1.0,1.0)"><path d="M8.9,21.2 C11.0,21.5 20.4,26.7 20.4,26.7 C20.4,26.7 23.1,18.8 23.1,18.8 C23.1,18.8 32.4,27.6 32.4,27.6 C32.4,27.6 35.7,21.6 35.7,21.6 C35.7,21.6 38.5,29.2 39.5,30.9 C40.5,32.6 40.9,32.0 41.7,31.7 C42.5,31.4 43.7,30.6 44.4,29.2 C45.1,27.8 45.6,25.2 46.1,23.2 C46.6,21.2 46.4,18.2 47.2,17.2 C48.0,16.2 49.7,16.3 51.0,17.2 C52.3,18.1 53.5,21.6 54.8,22.7 C56.1,23.8 57.5,24.3 58.6,23.8 C59.7,23.3 60.8,21.8 61.4,19.9 C62.0,18.0 61.6,13.6 62.3,12.3 C63.0,11.0 64.8,11.2 65.5,12.3 C66.2,13.4 65.8,17.1 66.8,18.8 C67.8,20.5 69.5,22.3 71.2,22.7 C72.9,23.1 75.1,22.1 76.7,21.0 C78.3,19.9 80.1,16.7 81.1,16.1 C82.1,15.5 83.2,16.2 82.7,17.2 C82.2,18.2 79.2,20.8 78.3,22.1 C77.4,23.4 77.0,24.9 77.5,24.9 C78.0,24.9 79.6,23.0 81.1,22.3 C82.6,21.6 85.1,20.4 86.5,20.5 C87.9,20.6 89.3,21.9 89.3,22.7 C89.3,23.5 87.9,24.5 86.5,25.4 C85.1,26.2 82.7,26.7 81.1,27.8 C79.5,28.9 77.6,30.9 76.9,32.0 C76.2,33.1 76.7,34.3 77.2,34.7 C77.8,35.1 79.2,35.1 80.2,34.5 C81.2,33.9 82.5,30.4 83.2,30.9 C83.9,31.4 84.9,35.8 84.6,37.4 C84.2,39.0 82.0,39.1 81.1,40.2 C80.2,41.3 79.4,42.5 79.4,44.0 C79.4,45.5 81.1,47.9 81.1,49.5 C81.1,51.1 80.3,52.8 79.4,53.8 C78.5,54.8 76.9,55.4 75.6,55.5 C74.3,55.6 72.9,54.1 71.8,54.4 C70.7,54.7 70.9,55.8 69.0,57.1 C67.1,58.4 63.6,60.6 60.3,62.0 C57.0,63.4 52.9,64.8 49.3,65.3 C45.6,65.8 42.0,65.4 38.4,64.8 C34.8,64.2 31.1,63.1 27.5,61.5 C23.9,59.9 19.6,57.1 16.5,54.9 C13.4,52.7 10.9,50.4 8.9,48.4 C6.9,46.4 5.1,44.4 4.5,42.9 C3.9,41.4 4.5,40.3 5.1,39.6 C5.7,38.9 7.0,38.4 8.3,38.5 C9.6,38.6 12.3,40.6 12.7,40.2 C13.1,39.8 11.1,37.5 10.5,36.3 C9.9,35.1 9.1,34.4 8.9,33.1 C8.7,31.8 9.6,30.1 9.4,28.7 C9.2,27.3 7.9,26.1 7.8,24.9 C7.7,23.6 6.8,20.9 8.9,21.2Z" fill="#f3e7e1" stroke="#8d9097" stroke-width="1.4" stroke-linejoin="round"/><circle cx="5.06" cy="19.9" r="4.1" fill="#f3e7e1" stroke="#8d9097" stroke-width="1.4"/><circle cx="48.8" cy="14.5" r="2.7" fill="#f3e7e1" stroke="#8d9097" stroke-width="1.4"/><circle cx="63.3" cy="5.9" r="5.9" fill="#f3e7e1" stroke="#8d9097" stroke-width="1.4"/><circle cx="83.2" cy="12.8" r="3.8" fill="#f3e7e1" stroke="#8d9097" stroke-width="1.4"/><circle cx="87.6" cy="32.5" r="5.2" fill="#f3e7e1" stroke="#8d9097" stroke-width="1.4"/><path d="M35.1,34.1 q4.5,-2 8.8,-1.1 q-3.2,2.4 -8.8,1.1z" fill="none" stroke="#8d9097" stroke-width="1"/></g>
<circle cx="578.0" cy="167.5" r="4.2" fill="#eabc5a" stroke="#e3b352" stroke-width="0.6"/>
<circle cx="579.6" cy="168.6" r="1.1" fill="#f6d88c"/>
<circle cx="576.9" cy="169.1" r="1.1" fill="#f6d88c"/>
<circle cx="576.4" cy="166.4" r="1.1" fill="#f6d88c"/>
<circle cx="579.1" cy="165.9" r="1.1" fill="#f6d88c"/>
<circle cx="590.5" cy="172.8" r="4.2" fill="#eabc5a" stroke="#e3b352" stroke-width="0.6"/>
<circle cx="592.1" cy="173.9" r="1.1" fill="#f6d88c"/>
<circle cx="589.4" cy="174.4" r="1.1" fill="#f6d88c"/>
<circle cx="588.9" cy="171.7" r="1.1" fill="#f6d88c"/>
<circle cx="591.6" cy="171.2" r="1.1" fill="#f6d88c"/>
<circle cx="564.6" cy="179.1" r="4.2" fill="#eabc5a" stroke="#e3b352" stroke-width="0.6"/>
<circle cx="566.2" cy="180.2" r="1.1" fill="#f6d88c"/>
<circle cx="563.5" cy="180.7" r="1.1" fill="#f6d88c"/>
<circle cx="563.0" cy="178.0" r="1.1" fill="#f6d88c"/>
<circle cx="565.7" cy="177.5" r="1.1" fill="#f6d88c"/>
<circle cx="556.9" cy="186.2" r="4.2" fill="#eabc5a" stroke="#e3b352" stroke-width="0.6"/>
<circle cx="558.5" cy="187.3" r="1.1" fill="#f6d88c"/>
<circle cx="555.8" cy="187.8" r="1.1" fill="#f6d88c"/>
<circle cx="555.3" cy="185.1" r="1.1" fill="#f6d88c"/>
<circle cx="558.0" cy="184.6" r="1.1" fill="#f6d88c"/>
<circle cx="571.0" cy="192.5" r="4.2" fill="#eabc5a" stroke="#e3b352" stroke-width="0.6"/>
<circle cx="572.6" cy="193.6" r="1.1" fill="#f6d88c"/>
<circle cx="569.9" cy="194.1" r="1.1" fill="#f6d88c"/>
<circle cx="569.4" cy="191.4" r="1.1" fill="#f6d88c"/>
<circle cx="572.1" cy="190.9" r="1.1" fill="#f6d88c"/>
<circle cx="582.0" cy="194.0" r="4.2" fill="#eabc5a" stroke="#e3b352" stroke-width="0.6"/>
<circle cx="583.6" cy="195.1" r="1.1" fill="#f6d88c"/>
<circle cx="580.9" cy="195.6" r="1.1" fill="#f6d88c"/>
<circle cx="580.4" cy="192.9" r="1.1" fill="#f6d88c"/>
<circle cx="583.1" cy="192.4" r="1.1" fill="#f6d88c"/>
<circle cx="563.5" cy="205.5" r="4.2" fill="#eabc5a" stroke="#e3b352" stroke-width="0.6"/>
<circle cx="565.1" cy="206.6" r="1.1" fill="#f6d88c"/>
<circle cx="562.4" cy="207.1" r="1.1" fill="#f6d88c"/>
<circle cx="561.9" cy="204.4" r="1.1" fill="#f6d88c"/>
<circle cx="564.6" cy="203.9" r="1.1" fill="#f6d88c"/>
<circle cx="620.6" cy="187.5" r="4.2" fill="#eabc5a" stroke="#e3b352" stroke-width="0.6"/>
<circle cx="622.2" cy="188.6" r="1.1" fill="#f6d88c"/>
<circle cx="619.5" cy="189.1" r="1.1" fill="#f6d88c"/>
<circle cx="619.0" cy="186.4" r="1.1" fill="#f6d88c"/>
<circle cx="621.7" cy="185.9" r="1.1" fill="#f6d88c"/>
<circle cx="629.5" cy="194.5" r="4.2" fill="#eabc5a" stroke="#e3b352" stroke-width="0.6"/>
<circle cx="631.1" cy="195.6" r="1.1" fill="#f6d88c"/>
<circle cx="628.4" cy="196.1" r="1.1" fill="#f6d88c"/>
<circle cx="627.9" cy="193.4" r="1.1" fill="#f6d88c"/>
<circle cx="630.6" cy="192.9" r="1.1" fill="#f6d88c"/>
<circle cx="608.0" cy="209.5" r="4.2" fill="#eabc5a" stroke="#e3b352" stroke-width="0.6"/>
<circle cx="609.6" cy="210.6" r="1.1" fill="#f6d88c"/>
<circle cx="606.9" cy="211.1" r="1.1" fill="#f6d88c"/>
<circle cx="606.4" cy="208.4" r="1.1" fill="#f6d88c"/>
<circle cx="609.1" cy="207.9" r="1.1" fill="#f6d88c"/>
<g transform="translate(591.4,257.4) rotate(0)"><ellipse rx="28.4" ry="27.5" fill="url(#nucg)" stroke="#b57b72" stroke-width="1.2"/><path d="M-24.4,1.4 A25.0,24.2 0 0 1 7.1,-23.6 A29.8,28.9 0 0 0 -24.4,1.4Z" fill="#e9bdb0" opacity="0.7" filter="url(#blur1)"/></g>
<circle cx="520.7" cy="51.7" r="2.9" fill="#f9dfb2" stroke="#e9c27c" stroke-width="1.2"/>
<circle cx="554.7" cy="43.5" r="2.9" fill="#f9dfb2" stroke="#e9c27c" stroke-width="1.2"/>
<circle cx="558.3" cy="57.4" r="2.9" fill="#f9dfb2" stroke="#e9c27c" stroke-width="1.2"/>
<circle cx="545.2" cy="66.0" r="2.9" fill="#f9dfb2" stroke="#e9c27c" stroke-width="1.2"/>
<circle cx="556.9" cy="73.2" r="2.9" fill="#f9dfb2" stroke="#e9c27c" stroke-width="1.2"/>
<circle cx="547.6" cy="82.8" r="2.9" fill="#f9dfb2" stroke="#e9c27c" stroke-width="1.2"/>
<circle cx="556.9" cy="85.5" r="2.9" fill="#f9dfb2" stroke="#e9c27c" stroke-width="1.2"/>
<circle cx="546.7" cy="90.9" r="2.9" fill="#f9dfb2" stroke="#e9c27c" stroke-width="1.2"/>
<circle cx="554.7" cy="94.5" r="2.9" fill="#f9dfb2" stroke="#e9c27c" stroke-width="1.2"/>
<circle cx="592.3" cy="20.7" r="2.9" fill="#f9dfb2" stroke="#e9c27c" stroke-width="1.2"/>
<circle cx="612.9" cy="19.8" r="2.9" fill="#f9dfb2" stroke="#e9c27c" stroke-width="1.2"/>
<circle cx="624.9" cy="16.8" r="2.9" fill="#f9dfb2" stroke="#e9c27c" stroke-width="1.2"/>
<circle cx="625.4" cy="31.1" r="2.9" fill="#f9dfb2" stroke="#e9c27c" stroke-width="1.2"/>
<circle cx="612.5" cy="38.3" r="2.9" fill="#f9dfb2" stroke="#e9c27c" stroke-width="1.2"/>
<circle cx="596.2" cy="42.6" r="2.9" fill="#f9dfb2" stroke="#e9c27c" stroke-width="1.2"/>
<circle cx="619.9" cy="50.8" r="2.9" fill="#f9dfb2" stroke="#e9c27c" stroke-width="1.2"/>
<circle cx="610.9" cy="57.6" r="2.9" fill="#f9dfb2" stroke="#e9c27c" stroke-width="1.2"/>
<circle cx="599.5" cy="60.6" r="2.9" fill="#f9dfb2" stroke="#e9c27c" stroke-width="1.2"/>
<circle cx="588.7" cy="66.7" r="2.9" fill="#f9dfb2" stroke="#e9c27c" stroke-width="1.2"/>
<circle cx="605.2" cy="73.2" r="2.9" fill="#f9dfb2" stroke="#e9c27c" stroke-width="1.2"/>
<circle cx="595.0" cy="81.6" r="2.9" fill="#f9dfb2" stroke="#e9c27c" stroke-width="1.2"/>
<circle cx="588.7" cy="87.3" r="2.9" fill="#f9dfb2" stroke="#e9c27c" stroke-width="1.2"/>
<circle cx="600.4" cy="87.8" r="2.9" fill="#f9dfb2" stroke="#e9c27c" stroke-width="1.2"/>
<circle cx="592.7" cy="93.7" r="2.9" fill="#f9dfb2" stroke="#e9c27c" stroke-width="1.2"/>
<circle cx="600.0" cy="94.6" r="2.9" fill="#f9dfb2" stroke="#e9c27c" stroke-width="1.2"/>
<circle cx="653.1" cy="48.1" r="2.9" fill="#f9dfb2" stroke="#e9c27c" stroke-width="1.2"/>
<circle cx="657.8" cy="62.8" r="2.9" fill="#f9dfb2" stroke="#e9c27c" stroke-width="1.2"/>
<circle cx="654.9" cy="74.9" r="2.9" fill="#f9dfb2" stroke="#e9c27c" stroke-width="1.2"/>
<circle cx="668.0" cy="78.9" r="2.9" fill="#f9dfb2" stroke="#e9c27c" stroke-width="1.2"/>
<circle cx="659.0" cy="86.0" r="2.9" fill="#f9dfb2" stroke="#e9c27c" stroke-width="1.2"/>
<circle cx="647.8" cy="90.5" r="2.9" fill="#f9dfb2" stroke="#e9c27c" stroke-width="1.2"/>
<circle cx="650.6" cy="99.5" r="2.9" fill="#f9dfb2" stroke="#e9c27c" stroke-width="1.2"/>
<circle cx="661.7" cy="99.8" r="2.9" fill="#f9dfb2" stroke="#e9c27c" stroke-width="1.2"/>
<circle cx="651.3" cy="108.4" r="2.9" fill="#f9dfb2" stroke="#e9c27c" stroke-width="1.2"/>
<defs><path id="c4" d="M543.3,518.6 C546.1,515.8 549.2,514.5 555.8,512.4 C562.3,510.3 573.6,507.0 582.6,506.1 C591.6,505.2 602.0,507.9 609.5,507.0 C617.0,506.1 621.4,502.8 627.4,500.7 C633.4,498.6 639.2,495.8 645.2,494.5 C651.2,493.2 658.0,492.2 663.1,492.7 C668.2,493.1 672.7,494.7 675.7,497.2 C678.7,499.7 679.8,501.6 681.0,507.9 C682.2,514.1 682.6,524.3 682.8,534.7 C682.9,545.1 682.5,560.0 681.9,570.5 C681.3,581.0 680.2,588.4 679.2,597.4 C678.2,606.4 677.2,618.2 675.7,624.2 C674.2,630.2 673.9,630.7 670.3,633.1 C666.7,635.5 661.4,637.8 654.2,638.5 C647.1,639.2 635.5,637.3 627.4,637.6 C619.3,637.9 613.4,639.5 605.9,640.3 C598.4,641.0 589.5,642.5 582.6,642.1 C575.7,641.7 570.1,638.8 564.7,637.6 C559.3,636.4 553.5,636.5 550.4,634.9 C547.3,633.3 547.1,632.6 545.9,627.8 C544.7,623.0 544.3,614.3 543.3,606.3 C542.3,598.2 540.6,588.5 539.7,579.5 C538.8,570.5 538.0,561.0 537.9,552.6 C537.8,544.2 537.9,535.1 538.8,529.4 C539.7,523.7 540.5,521.4 543.3,518.6Z"/><clipPath id="kc4"><use href="#c4"/></clipPath></defs>
<use href="#c4" fill="url(#cellg)"/>
<g clip-path="url(#kc4)" fill="none"><use href="#c4" stroke="#f8ccb0" stroke-width="12" opacity="0.8" filter="url(#blur4)" transform="translate(-3,-11)"/><use href="#c4" stroke="#f9d2b8" stroke-width="7" opacity="0.5" filter="url(#blur3)"/><use href="#c4" stroke="#fff3ea" stroke-width="9" opacity="0.9" filter="url(#blur4)" transform="translate(7,6)"/></g>
<use href="#c4" fill="none" stroke="#dba59b" stroke-width="2.4" stroke-linejoin="round"/>
<defs><path id="c5" d="M416.7,423.3 C420.6,421.5 424.9,420.1 430.1,419.7 C435.3,419.3 442.6,420.6 448.0,421.1 C453.4,421.6 457.3,422.9 462.4,422.9 C467.5,422.9 474.5,420.9 478.5,421.1 C482.5,421.3 483.5,422.2 486.5,424.2 C489.5,426.2 492.6,430.4 496.3,433.1 C500.0,435.8 505.0,437.8 508.9,440.3 C512.8,442.8 516.3,444.6 519.6,448.3 C522.9,452.0 526.5,457.2 528.6,462.6 C530.7,468.0 532.0,475.4 532.1,480.5 C532.2,485.6 531.0,490.2 529.5,493.0 C528.0,495.8 526.6,496.8 523.2,497.5 C519.8,498.2 512.8,497.4 508.9,497.5 C505.0,497.6 502.0,497.4 499.9,498.0 C497.8,498.6 496.3,500.0 496.3,501.1 C496.3,502.2 497.2,504.2 499.9,504.7 C502.6,505.1 507.9,503.6 512.4,503.8 C516.9,504.0 523.7,504.7 526.8,505.6 C529.9,506.5 530.3,505.8 531.2,509.1 C532.1,512.4 532.1,518.0 532.1,525.2 C532.1,532.4 531.6,543.8 531.2,552.1 C530.8,560.4 530.1,568.1 529.5,575.0 C528.9,581.9 528.0,585.5 527.7,593.7 C527.4,601.9 529.1,617.2 527.7,624.1 C526.4,631.0 523.9,631.8 519.6,634.8 C515.3,637.8 509.8,640.4 501.7,642.0 C493.6,643.6 482.3,644.4 471.3,644.7 C460.3,645.0 447.4,644.8 435.5,643.8 C423.6,642.8 409.5,640.8 399.7,638.4 C389.9,636.0 382.3,632.8 376.5,629.5 C370.7,626.2 367.0,622.3 364.8,618.7 C362.6,615.1 362.7,615.1 363.1,608.0 C363.6,600.9 366.2,585.5 367.5,575.8 C368.8,566.1 370.1,556.9 371.1,550.0 C372.2,543.1 373.2,540.6 373.8,534.2 C374.4,527.8 373.9,516.1 374.7,511.8 C375.4,507.5 375.0,509.1 378.3,508.2 C381.6,507.3 388.4,506.9 394.4,506.5 C400.3,506.1 410.1,506.5 414.0,505.6 C417.9,504.7 417.9,502.5 417.6,501.1 C417.3,499.8 416.2,498.0 412.3,497.5 C408.4,497.0 400.1,498.0 394.4,498.0 C388.7,498.0 381.9,498.9 378.3,497.5 C374.7,496.1 374.1,493.8 372.9,489.5 C371.7,485.2 371.1,477.6 371.1,471.6 C371.1,465.6 371.7,457.9 372.9,453.7 C374.1,449.5 375.9,448.0 378.3,446.5 C380.7,445.0 384.8,446.0 387.2,444.7 C389.6,443.4 390.8,440.6 392.6,438.5 C394.4,436.4 395.5,433.6 397.9,432.2 C400.3,430.8 403.8,431.9 406.9,430.4 C410.0,428.9 412.8,425.1 416.7,423.3Z"/><clipPath id="kc5"><use href="#c5"/></clipPath></defs>
<use href="#c5" fill="url(#cellg)"/>
<g clip-path="url(#kc5)" fill="none"><use href="#c5" stroke="#f8ccb0" stroke-width="12" opacity="0.8" filter="url(#blur4)" transform="translate(-3,-11)"/><use href="#c5" stroke="#f9d2b8" stroke-width="7" opacity="0.5" filter="url(#blur3)"/><use href="#c5" stroke="#fff3ea" stroke-width="9" opacity="0.9" filter="url(#blur4)" transform="translate(7,6)"/></g>
<use href="#c5" fill="none" stroke="#dba59b" stroke-width="2.4" stroke-linejoin="round"/>
<defs><path id="c6" d="M280.1,418.0 C272.2,417.7 265.5,418.3 259.6,419.2 C253.7,420.2 249.7,421.5 244.7,423.7 C239.7,426.0 233.9,429.2 229.8,432.7 C225.7,436.2 222.7,440.1 219.9,444.6 C217.1,449.1 214.8,454.5 212.9,459.5 C211.0,464.5 209.5,469.8 208.5,474.8 C207.5,479.8 207.3,483.6 207.0,489.3 C206.7,495.0 206.6,502.5 206.8,509.2 C207.1,516.0 207.8,523.0 208.5,529.8 C209.2,536.6 209.4,539.9 211.2,549.9 C213.0,559.9 217.1,578.4 219.3,589.5 C221.5,600.6 221.9,609.2 224.6,616.4 C227.3,623.6 230.3,628.3 235.4,632.5 C240.5,636.7 246.7,639.3 255.0,641.4 C263.4,643.5 275.1,644.9 285.5,645.0 C295.9,645.1 308.8,644.1 317.7,642.3 C326.6,640.5 333.4,638.0 339.1,634.3 C344.8,630.6 348.9,625.9 351.7,619.9 C354.5,613.9 354.8,608.0 356.1,598.5 C357.4,589.0 358.6,575.3 359.7,562.7 C360.8,550.1 362.1,534.2 362.4,523.1 C362.7,512.0 362.4,504.4 361.5,496.3 C360.6,488.2 359.5,482.3 357.0,474.8 C354.5,467.3 351.1,458.7 346.3,451.5 C341.5,444.3 335.0,436.9 328.4,431.8 C321.8,426.7 314.9,423.4 306.9,421.1 C298.8,418.8 288.0,418.3 280.1,418.0Z"/><clipPath id="kc6"><use href="#c6"/></clipPath></defs>
<use href="#c6" fill="url(#cellg)"/>
<g clip-path="url(#kc6)" fill="none"><use href="#c6" stroke="#f8ccb0" stroke-width="12" opacity="0.8" filter="url(#blur4)" transform="translate(-3,-11)"/><use href="#c6" stroke="#f9d2b8" stroke-width="7" opacity="0.5" filter="url(#blur3)"/><use href="#c6" stroke="#fff3ea" stroke-width="9" opacity="0.9" filter="url(#blur4)" transform="translate(7,6)"/></g>
<use href="#c6" fill="none" stroke="#dba59b" stroke-width="2.4" stroke-linejoin="round"/>
<defs><path id="c7" d="M511.9,426.8 C513.3,425.5 515.2,423.8 519.9,422.8 C524.5,421.8 534.1,420.3 539.8,420.8 C545.4,421.3 550.6,425.3 553.7,425.8 C556.7,426.4 556.1,422.7 558.1,424.2 C560.0,425.7 563.5,431.1 565.6,434.8 C567.7,438.4 569.1,443.9 570.6,446.3 C572.1,448.7 574.6,449.1 574.6,449.1 C574.6,449.1 575.3,445.4 574.6,442.7 C573.8,440.0 571.3,435.4 570.0,432.8 C568.7,430.1 566.7,428.1 566.6,426.8 C566.5,425.5 567.8,424.2 569.6,424.8 C571.4,425.5 574.9,428.1 577.5,430.8 C580.2,433.4 583.4,438.7 585.5,440.7 C587.5,442.8 589.9,443.1 589.9,443.1 C589.9,443.1 590.2,439.8 588.5,436.7 C586.7,433.7 582.0,428.0 579.5,424.8 C577.0,421.7 572.9,419.2 573.6,417.9 C574.2,416.5 580.2,417.7 583.5,416.9 C586.8,416.0 590.1,414.7 593.4,412.9 C596.8,411.1 600.4,406.9 603.4,405.9 C606.4,404.9 608.0,406.1 611.3,406.9 C614.6,407.8 620.4,409.6 623.3,410.9 C626.1,412.2 627.6,413.4 628.2,414.9 C628.9,416.4 628.4,417.9 627.2,419.9 C626.1,421.8 622.4,424.8 621.3,426.8 C620.1,428.8 619.8,430.8 620.3,431.8 C620.8,432.8 622.8,433.9 624.3,432.8 C625.7,431.6 627.1,426.8 629.2,424.8 C631.4,422.8 635.0,421.7 637.2,420.8 C639.3,420.0 641.8,421.0 642.1,419.9 C642.5,418.7 639.0,415.7 639.2,413.9 C639.3,412.1 641.2,409.9 643.1,408.9 C645.1,407.9 648.8,407.3 651.1,407.9 C653.4,408.6 655.7,411.4 657.1,412.9 C658.4,414.4 657.1,416.5 659.0,416.9 C661.0,417.2 666.0,414.9 669.0,414.9 C672.0,414.9 674.6,415.2 676.9,416.9 C679.3,418.5 682.1,422.5 682.9,424.8 C683.7,427.1 683.2,429.1 681.9,430.8 C680.6,432.4 677.1,433.3 675.0,434.8 C672.8,436.3 671.0,437.9 669.0,439.7 C667.0,441.6 664.3,444.0 663.0,445.7 C661.7,447.4 660.7,448.3 661.0,449.7 C661.4,451.0 663.0,453.6 665.0,453.6 C667.0,453.6 670.0,451.2 673.0,449.7 C675.9,448.2 680.3,445.4 682.9,444.7 C685.6,444.0 687.2,444.4 688.9,445.7 C690.5,447.0 692.5,450.5 692.8,452.7 C693.2,454.8 692.5,457.0 690.9,458.6 C689.2,460.3 685.6,461.6 682.9,462.6 C680.3,463.6 677.3,463.4 675.0,464.6 C672.6,465.7 671.0,467.2 669.0,469.6 C667.0,471.9 665.0,475.7 663.0,478.5 C661.0,481.3 659.4,484.6 657.1,486.5 C654.7,488.3 651.1,490.1 649.1,489.4 C647.1,488.8 646.3,484.5 645.1,482.5 C644.0,480.5 643.5,478.2 642.1,477.5 C640.8,476.8 638.7,476.7 637.2,478.5 C635.7,480.3 634.5,486.0 633.2,488.4 C631.9,490.9 630.7,493.1 629.2,493.4 C627.7,493.7 625.6,492.2 624.3,490.4 C622.9,488.6 622.6,484.6 621.3,482.5 C619.9,480.3 618.3,478.2 616.3,477.5 C614.3,476.8 611.5,478.0 609.3,478.5 C607.2,479.0 605.2,479.7 603.4,480.5 C601.6,481.3 599.7,483.6 598.4,483.5 C597.1,483.3 595.8,481.1 595.4,479.5 C595.1,477.8 596.9,474.5 596.4,473.5 C595.9,472.5 593.9,472.4 592.4,473.5 C591.0,474.7 589.6,478.5 587.5,480.5 C585.3,482.5 581.8,484.5 579.5,485.5 C577.2,486.5 575.2,485.3 573.6,486.5 C571.9,487.6 570.6,490.4 569.6,492.4 C568.6,494.4 568.9,498.0 567.6,498.4 C566.3,498.7 563.6,496.4 561.6,494.4 C559.6,492.4 557.7,489.1 555.7,486.5 C553.7,483.8 551.9,480.5 549.7,478.5 C547.5,476.5 544.7,476.2 542.7,474.5 C540.8,472.9 538.9,471.2 537.8,468.6 C536.6,465.9 535.8,461.6 535.8,458.6 C535.8,455.6 538.3,452.8 537.8,450.7 C537.3,448.5 534.8,447.7 532.8,445.7 C530.8,443.7 528.3,440.7 525.8,438.7 C523.4,436.7 520.2,435.1 517.9,433.8 C515.6,432.4 512.9,431.9 511.9,430.8 C510.9,429.6 510.6,428.1 511.9,426.8Z"/><clipPath id="kc7"><use href="#c7"/></clipPath></defs>
<use href="#c7" fill="#fcdeca"/>
<g clip-path="url(#kc7)" fill="none"><use href="#c7" stroke="#fff3ea" stroke-width="6" opacity="0.8" filter="url(#blur3)" transform="translate(3,5)"/></g>
<use href="#c7" fill="none" stroke="#dba59b" stroke-width="2.2" stroke-linejoin="round"/>
<circle cx="293.9" cy="447.6" r="6.8" fill="#e7ba52" stroke="#dfb04c" stroke-width="0.8"/>
<circle cx="293.9" cy="447.6" r="1.8" fill="#f8df9c"/>
<circle cx="297.7" cy="448.8" r="1.8" fill="#f8df9c"/>
<circle cx="294.8" cy="451.4" r="1.8" fill="#f8df9c"/>
<circle cx="291.0" cy="450.3" r="1.8" fill="#f8df9c"/>
<circle cx="290.1" cy="446.4" r="1.8" fill="#f8df9c"/>
<circle cx="293.0" cy="443.8" r="1.8" fill="#f8df9c"/>
<circle cx="296.8" cy="444.9" r="1.8" fill="#f8df9c"/>
<circle cx="327.5" cy="452.4" r="7.1" fill="#e7ba52" stroke="#dfb04c" stroke-width="0.8"/>
<circle cx="327.5" cy="452.4" r="1.9" fill="#f8df9c"/>
<circle cx="331.4" cy="453.6" r="1.9" fill="#f8df9c"/>
<circle cx="328.4" cy="456.4" r="1.9" fill="#f8df9c"/>
<circle cx="324.5" cy="455.2" r="1.9" fill="#f8df9c"/>
<circle cx="323.6" cy="451.2" r="1.9" fill="#f8df9c"/>
<circle cx="326.6" cy="448.4" r="1.9" fill="#f8df9c"/>
<circle cx="330.5" cy="449.6" r="1.9" fill="#f8df9c"/>
<circle cx="273.3" cy="464.4" r="8.0" fill="#e7ba52" stroke="#dfb04c" stroke-width="0.8"/>
<circle cx="273.3" cy="464.4" r="2.2" fill="#f8df9c"/>
<circle cx="277.7" cy="465.8" r="2.2" fill="#f8df9c"/>
<circle cx="274.3" cy="468.9" r="2.2" fill="#f8df9c"/>
<circle cx="269.9" cy="467.6" r="2.2" fill="#f8df9c"/>
<circle cx="268.9" cy="463.0" r="2.2" fill="#f8df9c"/>
<circle cx="272.3" cy="459.9" r="2.2" fill="#f8df9c"/>
<circle cx="276.7" cy="461.2" r="2.2" fill="#f8df9c"/>
<circle cx="234.5" cy="468.9" r="8.5" fill="#f1d68c" stroke="#ecd088" stroke-width="0.8"/>
<circle cx="234.5" cy="468.9" r="2.3" fill="#fcf0c8"/>
<circle cx="239.2" cy="470.4" r="2.3" fill="#fcf0c8"/>
<circle cx="235.6" cy="473.7" r="2.3" fill="#fcf0c8"/>
<circle cx="230.9" cy="472.3" r="2.3" fill="#fcf0c8"/>
<circle cx="229.8" cy="467.4" r="2.3" fill="#fcf0c8"/>
<circle cx="233.4" cy="464.1" r="2.3" fill="#fcf0c8"/>
<circle cx="238.1" cy="465.5" r="2.3" fill="#fcf0c8"/>
<circle cx="254.3" cy="477.5" r="7.5" fill="#e7ba52" stroke="#dfb04c" stroke-width="0.8"/>
<circle cx="254.3" cy="477.5" r="2.0" fill="#f8df9c"/>
<circle cx="258.5" cy="478.8" r="2.0" fill="#f8df9c"/>
<circle cx="255.3" cy="481.7" r="2.0" fill="#f8df9c"/>
<circle cx="251.1" cy="480.5" r="2.0" fill="#f8df9c"/>
<circle cx="250.1" cy="476.2" r="2.0" fill="#f8df9c"/>
<circle cx="253.3" cy="473.3" r="2.0" fill="#f8df9c"/>
<circle cx="257.5" cy="474.5" r="2.0" fill="#f8df9c"/>
<circle cx="309.8" cy="476.0" r="5.0" fill="#eabc5a" stroke="#e3b352" stroke-width="0.6"/>
<circle cx="311.7" cy="477.3" r="1.4" fill="#f6d88c"/>
<circle cx="308.5" cy="477.9" r="1.4" fill="#f6d88c"/>
<circle cx="307.9" cy="474.7" r="1.4" fill="#f6d88c"/>
<circle cx="311.1" cy="474.1" r="1.4" fill="#f6d88c"/>
<g transform="translate(249.7,497.2) scale(1.0,1.0)"><path d="M8.9,21.2 C11.0,21.5 20.4,26.7 20.4,26.7 C20.4,26.7 23.1,18.8 23.1,18.8 C23.1,18.8 32.4,27.6 32.4,27.6 C32.4,27.6 35.7,21.6 35.7,21.6 C35.7,21.6 38.5,29.2 39.5,30.9 C40.5,32.6 40.9,32.0 41.7,31.7 C42.5,31.4 43.7,30.6 44.4,29.2 C45.1,27.8 45.6,25.2 46.1,23.2 C46.6,21.2 46.4,18.2 47.2,17.2 C48.0,16.2 49.7,16.3 51.0,17.2 C52.3,18.1 53.5,21.6 54.8,22.7 C56.1,23.8 57.5,24.3 58.6,23.8 C59.7,23.3 60.8,21.8 61.4,19.9 C62.0,18.0 61.6,13.6 62.3,12.3 C63.0,11.0 64.8,11.2 65.5,12.3 C66.2,13.4 65.8,17.1 66.8,18.8 C67.8,20.5 69.5,22.3 71.2,22.7 C72.9,23.1 75.1,22.1 76.7,21.0 C78.3,19.9 80.1,16.7 81.1,16.1 C82.1,15.5 83.2,16.2 82.7,17.2 C82.2,18.2 79.2,20.8 78.3,22.1 C77.4,23.4 77.0,24.9 77.5,24.9 C78.0,24.9 79.6,23.0 81.1,22.3 C82.6,21.6 85.1,20.4 86.5,20.5 C87.9,20.6 89.3,21.9 89.3,22.7 C89.3,23.5 87.9,24.5 86.5,25.4 C85.1,26.2 82.7,26.7 81.1,27.8 C79.5,28.9 77.6,30.9 76.9,32.0 C76.2,33.1 76.7,34.3 77.2,34.7 C77.8,35.1 79.2,35.1 80.2,34.5 C81.2,33.9 82.5,30.4 83.2,30.9 C83.9,31.4 84.9,35.8 84.6,37.4 C84.2,39.0 82.0,39.1 81.1,40.2 C80.2,41.3 79.4,42.5 79.4,44.0 C79.4,45.5 81.1,47.9 81.1,49.5 C81.1,51.1 80.3,52.8 79.4,53.8 C78.5,54.8 76.9,55.4 75.6,55.5 C74.3,55.6 72.9,54.1 71.8,54.4 C70.7,54.7 70.9,55.8 69.0,57.1 C67.1,58.4 63.6,60.6 60.3,62.0 C57.0,63.4 52.9,64.8 49.3,65.3 C45.6,65.8 42.0,65.4 38.4,64.8 C34.8,64.2 31.1,63.1 27.5,61.5 C23.9,59.9 19.6,57.1 16.5,54.9 C13.4,52.7 10.9,50.4 8.9,48.4 C6.9,46.4 5.1,44.4 4.5,42.9 C3.9,41.4 4.5,40.3 5.1,39.6 C5.7,38.9 7.0,38.4 8.3,38.5 C9.6,38.6 12.3,40.6 12.7,40.2 C13.1,39.8 11.1,37.5 10.5,36.3 C9.9,35.1 9.1,34.4 8.9,33.1 C8.7,31.8 9.6,30.1 9.4,28.7 C9.2,27.3 7.9,26.1 7.8,24.9 C7.7,23.6 6.8,20.9 8.9,21.2Z" fill="#f3e7e1" stroke="#8d9097" stroke-width="1.4" stroke-linejoin="round"/><circle cx="5.06" cy="19.9" r="4.1" fill="#f3e7e1" stroke="#8d9097" stroke-width="1.4"/><circle cx="48.8" cy="14.5" r="2.7" fill="#f3e7e1" stroke="#8d9097" stroke-width="1.4"/><circle cx="63.3" cy="5.9" r="5.9" fill="#f3e7e1" stroke="#8d9097" stroke-width="1.4"/><circle cx="83.2" cy="12.8" r="3.8" fill="#f3e7e1" stroke="#8d9097" stroke-width="1.4"/><circle cx="87.6" cy="32.5" r="5.2" fill="#f3e7e1" stroke="#8d9097" stroke-width="1.4"/><path d="M35.1,34.1 q4.5,-2 8.8,-1.1 q-3.2,2.4 -8.8,1.1z" fill="none" stroke="#8d9097" stroke-width="1"/></g>
<circle cx="272.4" cy="512.7" r="4.2" fill="#eabc5a" stroke="#e3b352" stroke-width="0.6"/>
<circle cx="274.0" cy="513.8" r="1.1" fill="#f6d88c"/>
<circle cx="271.3" cy="514.3" r="1.1" fill="#f6d88c"/>
<circle cx="270.8" cy="511.6" r="1.1" fill="#f6d88c"/>
<circle cx="273.5" cy="511.1" r="1.1" fill="#f6d88c"/>
<circle cx="284.9" cy="517.7" r="4.2" fill="#eabc5a" stroke="#e3b352" stroke-width="0.6"/>
<circle cx="286.5" cy="518.8" r="1.1" fill="#f6d88c"/>
<circle cx="283.8" cy="519.3" r="1.1" fill="#f6d88c"/>
<circle cx="283.3" cy="516.6" r="1.1" fill="#f6d88c"/>
<circle cx="286.0" cy="516.1" r="1.1" fill="#f6d88c"/>
<circle cx="259.0" cy="524.4" r="4.2" fill="#eabc5a" stroke="#e3b352" stroke-width="0.6"/>
<circle cx="260.6" cy="525.5" r="1.1" fill="#f6d88c"/>
<circle cx="257.9" cy="526.0" r="1.1" fill="#f6d88c"/>
<circle cx="257.4" cy="523.3" r="1.1" fill="#f6d88c"/>
<circle cx="260.1" cy="522.8" r="1.1" fill="#f6d88c"/>
<circle cx="251.1" cy="531.2" r="4.2" fill="#eabc5a" stroke="#e3b352" stroke-width="0.6"/>
<circle cx="252.7" cy="532.3" r="1.1" fill="#f6d88c"/>
<circle cx="250.0" cy="532.8" r="1.1" fill="#f6d88c"/>
<circle cx="249.5" cy="530.1" r="1.1" fill="#f6d88c"/>
<circle cx="252.2" cy="529.6" r="1.1" fill="#f6d88c"/>
<circle cx="265.4" cy="538.0" r="4.2" fill="#eabc5a" stroke="#e3b352" stroke-width="0.6"/>
<circle cx="267.0" cy="539.1" r="1.1" fill="#f6d88c"/>
<circle cx="264.3" cy="539.6" r="1.1" fill="#f6d88c"/>
<circle cx="263.8" cy="536.9" r="1.1" fill="#f6d88c"/>
<circle cx="266.5" cy="536.4" r="1.1" fill="#f6d88c"/>
<circle cx="276.5" cy="539.6" r="4.2" fill="#eabc5a" stroke="#e3b352" stroke-width="0.6"/>
<circle cx="278.1" cy="540.7" r="1.1" fill="#f6d88c"/>
<circle cx="275.4" cy="541.2" r="1.1" fill="#f6d88c"/>
<circle cx="274.9" cy="538.5" r="1.1" fill="#f6d88c"/>
<circle cx="277.6" cy="538.0" r="1.1" fill="#f6d88c"/>
<circle cx="257.7" cy="550.8" r="4.2" fill="#eabc5a" stroke="#e3b352" stroke-width="0.6"/>
<circle cx="259.3" cy="551.9" r="1.1" fill="#f6d88c"/>
<circle cx="256.6" cy="552.4" r="1.1" fill="#f6d88c"/>
<circle cx="256.1" cy="549.7" r="1.1" fill="#f6d88c"/>
<circle cx="258.8" cy="549.2" r="1.1" fill="#f6d88c"/>
<circle cx="315.0" cy="532.6" r="4.2" fill="#eabc5a" stroke="#e3b352" stroke-width="0.6"/>
<circle cx="316.6" cy="533.7" r="1.1" fill="#f6d88c"/>
<circle cx="313.9" cy="534.2" r="1.1" fill="#f6d88c"/>
<circle cx="313.4" cy="531.5" r="1.1" fill="#f6d88c"/>
<circle cx="316.1" cy="531.0" r="1.1" fill="#f6d88c"/>
<circle cx="324.3" cy="540.1" r="4.2" fill="#eabc5a" stroke="#e3b352" stroke-width="0.6"/>
<circle cx="325.9" cy="541.2" r="1.1" fill="#f6d88c"/>
<circle cx="323.2" cy="541.7" r="1.1" fill="#f6d88c"/>
<circle cx="322.7" cy="539.0" r="1.1" fill="#f6d88c"/>
<circle cx="325.4" cy="538.5" r="1.1" fill="#f6d88c"/>
<circle cx="302.6" cy="555.0" r="4.2" fill="#eabc5a" stroke="#e3b352" stroke-width="0.6"/>
<circle cx="304.2" cy="556.1" r="1.1" fill="#f6d88c"/>
<circle cx="301.5" cy="556.6" r="1.1" fill="#f6d88c"/>
<circle cx="301.0" cy="553.9" r="1.1" fill="#f6d88c"/>
<circle cx="303.7" cy="553.4" r="1.1" fill="#f6d88c"/>
<g transform="translate(294.3,592.8) rotate(8)"><ellipse rx="34.0" ry="24.2" fill="url(#nucg)" stroke="#b57b72" stroke-width="1.2"/><path d="M-29.2,1.2 A29.9,21.3 0 0 1 8.5,-20.8 A35.7,25.4 0 0 0 -29.2,1.2Z" fill="#e9bdb0" opacity="0.7" filter="url(#blur1)"/></g>
<circle cx="448.6" cy="435.8" r="4.8" fill="#eabc5a" stroke="#e3b352" stroke-width="0.6"/>
<circle cx="450.4" cy="437.0" r="1.3" fill="#f6d88c"/>
<circle cx="447.4" cy="437.6" r="1.3" fill="#f6d88c"/>
<circle cx="446.8" cy="434.6" r="1.3" fill="#f6d88c"/>
<circle cx="449.8" cy="434.0" r="1.3" fill="#f6d88c"/>
<circle cx="437.3" cy="446.9" r="6.8" fill="#e7ba52" stroke="#dfb04c" stroke-width="0.8"/>
<circle cx="437.3" cy="446.9" r="1.8" fill="#f8df9c"/>
<circle cx="441.1" cy="448.1" r="1.8" fill="#f8df9c"/>
<circle cx="438.2" cy="450.7" r="1.8" fill="#f8df9c"/>
<circle cx="434.4" cy="449.6" r="1.8" fill="#f8df9c"/>
<circle cx="433.5" cy="445.7" r="1.8" fill="#f8df9c"/>
<circle cx="436.4" cy="443.1" r="1.8" fill="#f8df9c"/>
<circle cx="440.2" cy="444.2" r="1.8" fill="#f8df9c"/>
<circle cx="416.2" cy="456.0" r="7.2" fill="#e7ba52" stroke="#dfb04c" stroke-width="0.8"/>
<circle cx="416.2" cy="456.0" r="1.9" fill="#f8df9c"/>
<circle cx="420.2" cy="457.2" r="1.9" fill="#f8df9c"/>
<circle cx="417.1" cy="460.1" r="1.9" fill="#f8df9c"/>
<circle cx="413.1" cy="458.8" r="1.9" fill="#f8df9c"/>
<circle cx="412.2" cy="454.8" r="1.9" fill="#f8df9c"/>
<circle cx="415.3" cy="451.9" r="1.9" fill="#f8df9c"/>
<circle cx="419.3" cy="453.2" r="1.9" fill="#f8df9c"/>
<circle cx="486.5" cy="451.5" r="4.5" fill="#eabc5a" stroke="#e3b352" stroke-width="0.6"/>
<circle cx="488.2" cy="452.6" r="1.2" fill="#f6d88c"/>
<circle cx="485.4" cy="453.2" r="1.2" fill="#f6d88c"/>
<circle cx="484.8" cy="450.4" r="1.2" fill="#f6d88c"/>
<circle cx="487.6" cy="449.8" r="1.2" fill="#f6d88c"/>
<circle cx="463.2" cy="465.3" r="8.0" fill="#e7ba52" stroke="#dfb04c" stroke-width="0.8"/>
<circle cx="463.2" cy="465.3" r="2.2" fill="#f8df9c"/>
<circle cx="467.6" cy="466.7" r="2.2" fill="#f8df9c"/>
<circle cx="464.2" cy="469.8" r="2.2" fill="#f8df9c"/>
<circle cx="459.8" cy="468.5" r="2.2" fill="#f8df9c"/>
<circle cx="458.8" cy="463.9" r="2.2" fill="#f8df9c"/>
<circle cx="462.2" cy="460.8" r="2.2" fill="#f8df9c"/>
<circle cx="466.6" cy="462.1" r="2.2" fill="#f8df9c"/>
<circle cx="504.9" cy="465.7" r="8.6" fill="#e7ba52" stroke="#dfb04c" stroke-width="0.8"/>
<circle cx="504.9" cy="465.7" r="2.3" fill="#f8df9c"/>
<circle cx="509.7" cy="467.2" r="2.3" fill="#f8df9c"/>
<circle cx="506.0" cy="470.6" r="2.3" fill="#f8df9c"/>
<circle cx="501.2" cy="469.1" r="2.3" fill="#f8df9c"/>
<circle cx="500.1" cy="464.2" r="2.3" fill="#f8df9c"/>
<circle cx="503.8" cy="460.8" r="2.3" fill="#f8df9c"/>
<circle cx="508.6" cy="462.3" r="2.3" fill="#f8df9c"/>
<circle cx="398.8" cy="474.3" r="4.8" fill="#eabc5a" stroke="#e3b352" stroke-width="0.6"/>
<circle cx="400.6" cy="475.5" r="1.3" fill="#f6d88c"/>
<circle cx="397.6" cy="476.1" r="1.3" fill="#f6d88c"/>
<circle cx="397.0" cy="473.1" r="1.3" fill="#f6d88c"/>
<circle cx="400.0" cy="472.5" r="1.3" fill="#f6d88c"/>
<circle cx="414.0" cy="477.8" r="3.6" fill="#eabc5a" stroke="#e3b352" stroke-width="0.6"/>
<circle cx="415.3" cy="478.7" r="1.0" fill="#f6d88c"/>
<circle cx="413.1" cy="479.1" r="1.0" fill="#f6d88c"/>
<circle cx="412.7" cy="476.9" r="1.0" fill="#f6d88c"/>
<circle cx="414.9" cy="476.5" r="1.0" fill="#f6d88c"/>
<circle cx="460.6" cy="488.0" r="4.5" fill="#eabc5a" stroke="#e3b352" stroke-width="0.6"/>
<circle cx="462.3" cy="489.1" r="1.2" fill="#f6d88c"/>
<circle cx="459.5" cy="489.7" r="1.2" fill="#f6d88c"/>
<circle cx="458.9" cy="486.9" r="1.2" fill="#f6d88c"/>
<circle cx="461.7" cy="486.3" r="1.2" fill="#f6d88c"/>
<circle cx="483.8" cy="488.9" r="7.5" fill="#e7ba52" stroke="#dfb04c" stroke-width="0.8"/>
<circle cx="483.8" cy="488.9" r="2.0" fill="#f8df9c"/>
<circle cx="488.0" cy="490.2" r="2.0" fill="#f8df9c"/>
<circle cx="484.8" cy="493.1" r="2.0" fill="#f8df9c"/>
<circle cx="480.6" cy="491.9" r="2.0" fill="#f8df9c"/>
<circle cx="479.6" cy="487.6" r="2.0" fill="#f8df9c"/>
<circle cx="482.8" cy="484.7" r="2.0" fill="#f8df9c"/>
<circle cx="487.0" cy="485.9" r="2.0" fill="#f8df9c"/>
<g transform="translate(495.5,505.3) scale(-1.0,1.0)"><path d="M8.9,21.2 C11.0,21.5 20.4,26.7 20.4,26.7 C20.4,26.7 23.1,18.8 23.1,18.8 C23.1,18.8 32.4,27.6 32.4,27.6 C32.4,27.6 35.7,21.6 35.7,21.6 C35.7,21.6 38.5,29.2 39.5,30.9 C40.5,32.6 40.9,32.0 41.7,31.7 C42.5,31.4 43.7,30.6 44.4,29.2 C45.1,27.8 45.6,25.2 46.1,23.2 C46.6,21.2 46.4,18.2 47.2,17.2 C48.0,16.2 49.7,16.3 51.0,17.2 C52.3,18.1 53.5,21.6 54.8,22.7 C56.1,23.8 57.5,24.3 58.6,23.8 C59.7,23.3 60.8,21.8 61.4,19.9 C62.0,18.0 61.6,13.6 62.3,12.3 C63.0,11.0 64.8,11.2 65.5,12.3 C66.2,13.4 65.8,17.1 66.8,18.8 C67.8,20.5 69.5,22.3 71.2,22.7 C72.9,23.1 75.1,22.1 76.7,21.0 C78.3,19.9 80.1,16.7 81.1,16.1 C82.1,15.5 83.2,16.2 82.7,17.2 C82.2,18.2 79.2,20.8 78.3,22.1 C77.4,23.4 77.0,24.9 77.5,24.9 C78.0,24.9 79.6,23.0 81.1,22.3 C82.6,21.6 85.1,20.4 86.5,20.5 C87.9,20.6 89.3,21.9 89.3,22.7 C89.3,23.5 87.9,24.5 86.5,25.4 C85.1,26.2 82.7,26.7 81.1,27.8 C79.5,28.9 77.6,30.9 76.9,32.0 C76.2,33.1 76.7,34.3 77.2,34.7 C77.8,35.1 79.2,35.1 80.2,34.5 C81.2,33.9 82.5,30.4 83.2,30.9 C83.9,31.4 84.9,35.8 84.6,37.4 C84.2,39.0 82.0,39.1 81.1,40.2 C80.2,41.3 79.4,42.5 79.4,44.0 C79.4,45.5 81.1,47.9 81.1,49.5 C81.1,51.1 80.3,52.8 79.4,53.8 C78.5,54.8 76.9,55.4 75.6,55.5 C74.3,55.6 72.9,54.1 71.8,54.4 C70.7,54.7 70.9,55.8 69.0,57.1 C67.1,58.4 63.6,60.6 60.3,62.0 C57.0,63.4 52.9,64.8 49.3,65.3 C45.6,65.8 42.0,65.4 38.4,64.8 C34.8,64.2 31.1,63.1 27.5,61.5 C23.9,59.9 19.6,57.1 16.5,54.9 C13.4,52.7 10.9,50.4 8.9,48.4 C6.9,46.4 5.1,44.4 4.5,42.9 C3.9,41.4 4.5,40.3 5.1,39.6 C5.7,38.9 7.0,38.4 8.3,38.5 C9.6,38.6 12.3,40.6 12.7,40.2 C13.1,39.8 11.1,37.5 10.5,36.3 C9.9,35.1 9.1,34.4 8.9,33.1 C8.7,31.8 9.6,30.1 9.4,28.7 C9.2,27.3 7.9,26.1 7.8,24.9 C7.7,23.6 6.8,20.9 8.9,21.2Z" fill="#f3e7e1" stroke="#8d9097" stroke-width="1.4" stroke-linejoin="round"/><circle cx="5.06" cy="19.9" r="4.1" fill="#f3e7e1" stroke="#8d9097" stroke-width="1.4"/><circle cx="48.8" cy="14.5" r="2.7" fill="#f3e7e1" stroke="#8d9097" stroke-width="1.4"/><circle cx="63.3" cy="5.9" r="5.9" fill="#f3e7e1" stroke="#8d9097" stroke-width="1.4"/><circle cx="83.2" cy="12.8" r="3.8" fill="#f3e7e1" stroke="#8d9097" stroke-width="1.4"/><circle cx="87.6" cy="32.5" r="5.2" fill="#f3e7e1" stroke="#8d9097" stroke-width="1.4"/><path d="M35.1,34.1 q4.5,-2 8.8,-1.1 q-3.2,2.4 -8.8,1.1z" fill="none" stroke="#8d9097" stroke-width="1"/></g>
<circle cx="473.1" cy="520.2" r="4.3" fill="#eabc5a" stroke="#e3b352" stroke-width="0.6"/>
<circle cx="474.7" cy="521.3" r="1.2" fill="#f6d88c"/>
<circle cx="472.0" cy="521.8" r="1.2" fill="#f6d88c"/>
<circle cx="471.5" cy="519.1" r="1.2" fill="#f6d88c"/>
<circle cx="474.2" cy="518.6" r="1.2" fill="#f6d88c"/>
<circle cx="486.5" cy="532.9" r="4.3" fill="#eabc5a" stroke="#e3b352" stroke-width="0.6"/>
<circle cx="488.1" cy="534.0" r="1.2" fill="#f6d88c"/>
<circle cx="485.4" cy="534.5" r="1.2" fill="#f6d88c"/>
<circle cx="484.9" cy="531.8" r="1.2" fill="#f6d88c"/>
<circle cx="487.6" cy="531.3" r="1.2" fill="#f6d88c"/>
<circle cx="421.6" cy="547.6" r="4.3" fill="#eabc5a" stroke="#e3b352" stroke-width="0.6"/>
<circle cx="423.2" cy="548.7" r="1.2" fill="#f6d88c"/>
<circle cx="420.5" cy="549.2" r="1.2" fill="#f6d88c"/>
<circle cx="420.0" cy="546.5" r="1.2" fill="#f6d88c"/>
<circle cx="422.7" cy="546.0" r="1.2" fill="#f6d88c"/>
<circle cx="469.0" cy="547.3" r="4.3" fill="#eabc5a" stroke="#e3b352" stroke-width="0.6"/>
<circle cx="470.6" cy="548.4" r="1.2" fill="#f6d88c"/>
<circle cx="467.9" cy="548.9" r="1.2" fill="#f6d88c"/>
<circle cx="467.4" cy="546.2" r="1.2" fill="#f6d88c"/>
<circle cx="470.1" cy="545.7" r="1.2" fill="#f6d88c"/>
<circle cx="479.7" cy="545.8" r="4.3" fill="#eabc5a" stroke="#e3b352" stroke-width="0.6"/>
<circle cx="481.3" cy="546.9" r="1.2" fill="#f6d88c"/>
<circle cx="478.6" cy="547.4" r="1.2" fill="#f6d88c"/>
<circle cx="478.1" cy="544.7" r="1.2" fill="#f6d88c"/>
<circle cx="480.8" cy="544.2" r="1.2" fill="#f6d88c"/>
<circle cx="443.6" cy="562.8" r="4.3" fill="#eabc5a" stroke="#e3b352" stroke-width="0.6"/>
<circle cx="445.2" cy="563.9" r="1.2" fill="#f6d88c"/>
<circle cx="442.5" cy="564.4" r="1.2" fill="#f6d88c"/>
<circle cx="442.0" cy="561.7" r="1.2" fill="#f6d88c"/>
<circle cx="444.7" cy="561.2" r="1.2" fill="#f6d88c"/>
<g transform="translate(451.6,603.2) rotate(0)"><ellipse rx="28.6" ry="27.3" fill="url(#nucg)" stroke="#b57b72" stroke-width="1.2"/><path d="M-24.6,1.4 A25.2,24.0 0 0 1 7.2,-23.5 A30.0,28.7 0 0 0 -24.6,1.4Z" fill="#e9bdb0" opacity="0.7" filter="url(#blur1)"/></g>
<circle cx="606.8" cy="421.8" r="8.0" fill="#f1d68c" stroke="#ecd088" stroke-width="0.8"/>
<circle cx="606.8" cy="421.8" r="2.2" fill="#fcf0c8"/>
<circle cx="611.2" cy="423.2" r="2.2" fill="#fcf0c8"/>
<circle cx="607.8" cy="426.3" r="2.2" fill="#fcf0c8"/>
<circle cx="603.4" cy="425.0" r="2.2" fill="#fcf0c8"/>
<circle cx="602.4" cy="420.4" r="2.2" fill="#fcf0c8"/>
<circle cx="605.8" cy="417.3" r="2.2" fill="#fcf0c8"/>
<circle cx="610.2" cy="418.6" r="2.2" fill="#fcf0c8"/>
<circle cx="665.0" cy="428.8" r="6.5" fill="#f1d68c" stroke="#ecd088" stroke-width="0.8"/>
<circle cx="665.0" cy="428.8" r="1.8" fill="#fcf0c8"/>
<circle cx="668.6" cy="429.9" r="1.8" fill="#fcf0c8"/>
<circle cx="665.8" cy="432.5" r="1.8" fill="#fcf0c8"/>
<circle cx="662.2" cy="431.4" r="1.8" fill="#fcf0c8"/>
<circle cx="661.4" cy="427.7" r="1.8" fill="#fcf0c8"/>
<circle cx="664.2" cy="425.1" r="1.8" fill="#fcf0c8"/>
<circle cx="667.8" cy="426.2" r="1.8" fill="#fcf0c8"/>
<circle cx="559.0" cy="435.8" r="5.0" fill="#eabc5a" stroke="#e3b352" stroke-width="0.6"/>
<circle cx="560.9" cy="437.1" r="1.4" fill="#f6d88c"/>
<circle cx="557.7" cy="437.7" r="1.4" fill="#f6d88c"/>
<circle cx="557.1" cy="434.5" r="1.4" fill="#f6d88c"/>
<circle cx="560.3" cy="433.9" r="1.4" fill="#f6d88c"/>
<circle cx="635.8" cy="435.4" r="5.0" fill="#eabc5a" stroke="#e3b352" stroke-width="0.6"/>
<circle cx="637.7" cy="436.7" r="1.4" fill="#f6d88c"/>
<circle cx="634.5" cy="437.3" r="1.4" fill="#f6d88c"/>
<circle cx="633.9" cy="434.1" r="1.4" fill="#f6d88c"/>
<circle cx="637.1" cy="433.5" r="1.4" fill="#f6d88c"/>
<circle cx="618.9" cy="444.7" r="5.0" fill="#eabc5a" stroke="#e3b352" stroke-width="0.6"/>
<circle cx="620.8" cy="446.0" r="1.4" fill="#f6d88c"/>
<circle cx="617.6" cy="446.6" r="1.4" fill="#f6d88c"/>
<circle cx="617.0" cy="443.4" r="1.4" fill="#f6d88c"/>
<circle cx="620.2" cy="442.8" r="1.4" fill="#f6d88c"/>
<circle cx="555.7" cy="463.6" r="9.0" fill="#e7ba52" stroke="#dfb04c" stroke-width="0.8"/>
<circle cx="555.7" cy="463.6" r="2.4" fill="#f8df9c"/>
<circle cx="560.7" cy="465.1" r="2.4" fill="#f8df9c"/>
<circle cx="556.9" cy="468.7" r="2.4" fill="#f8df9c"/>
<circle cx="551.9" cy="467.1" r="2.4" fill="#f8df9c"/>
<circle cx="550.7" cy="462.1" r="2.4" fill="#f8df9c"/>
<circle cx="554.5" cy="458.5" r="2.4" fill="#f8df9c"/>
<circle cx="559.5" cy="460.1" r="2.4" fill="#f8df9c"/>
<circle cx="603.4" cy="460.6" r="7.0" fill="#e7ba52" stroke="#dfb04c" stroke-width="0.8"/>
<circle cx="603.4" cy="460.6" r="1.9" fill="#f8df9c"/>
<circle cx="607.3" cy="461.8" r="1.9" fill="#f8df9c"/>
<circle cx="604.3" cy="464.6" r="1.9" fill="#f8df9c"/>
<circle cx="600.4" cy="463.4" r="1.9" fill="#f8df9c"/>
<circle cx="599.5" cy="459.4" r="1.9" fill="#f8df9c"/>
<circle cx="602.5" cy="456.6" r="1.9" fill="#f8df9c"/>
<circle cx="606.4" cy="457.8" r="1.9" fill="#f8df9c"/>
<circle cx="638.6" cy="458.6" r="7.3" fill="#e7ba52" stroke="#dfb04c" stroke-width="0.8"/>
<circle cx="638.6" cy="458.6" r="2.0" fill="#f8df9c"/>
<circle cx="642.6" cy="459.9" r="2.0" fill="#f8df9c"/>
<circle cx="639.5" cy="462.7" r="2.0" fill="#f8df9c"/>
<circle cx="635.5" cy="461.5" r="2.0" fill="#f8df9c"/>
<circle cx="634.6" cy="457.3" r="2.0" fill="#f8df9c"/>
<circle cx="637.7" cy="454.5" r="2.0" fill="#f8df9c"/>
<circle cx="641.7" cy="455.7" r="2.0" fill="#f8df9c"/>
<circle cx="580.9" cy="472.5" r="4.0" fill="#eabc5a" stroke="#e3b352" stroke-width="0.6"/>
<circle cx="582.4" cy="473.5" r="1.1" fill="#f6d88c"/>
<circle cx="579.9" cy="474.0" r="1.1" fill="#f6d88c"/>
<circle cx="579.4" cy="471.5" r="1.1" fill="#f6d88c"/>
<circle cx="581.9" cy="471.0" r="1.1" fill="#f6d88c"/>
<circle cx="628.8" cy="472.9" r="7.3" fill="#e7ba52" stroke="#dfb04c" stroke-width="0.8"/>
<circle cx="628.8" cy="472.9" r="2.0" fill="#f8df9c"/>
<circle cx="632.8" cy="474.2" r="2.0" fill="#f8df9c"/>
<circle cx="629.7" cy="477.0" r="2.0" fill="#f8df9c"/>
<circle cx="625.7" cy="475.8" r="2.0" fill="#f8df9c"/>
<circle cx="624.8" cy="471.6" r="2.0" fill="#f8df9c"/>
<circle cx="627.9" cy="468.8" r="2.0" fill="#f8df9c"/>
<circle cx="631.9" cy="470.0" r="2.0" fill="#f8df9c"/>
<circle cx="652.1" cy="475.9" r="4.4" fill="#eabc5a" stroke="#e3b352" stroke-width="0.6"/>
<circle cx="653.7" cy="477.0" r="1.2" fill="#f6d88c"/>
<circle cx="651.0" cy="477.5" r="1.2" fill="#f6d88c"/>
<circle cx="650.5" cy="474.8" r="1.2" fill="#f6d88c"/>
<circle cx="653.2" cy="474.3" r="1.2" fill="#f6d88c"/>
<g transform="translate(566.0,503.3) scale(1.0,1.0)"><path d="M8.9,21.2 C11.0,21.5 20.4,26.7 20.4,26.7 C20.4,26.7 23.1,18.8 23.1,18.8 C23.1,18.8 32.4,27.6 32.4,27.6 C32.4,27.6 35.7,21.6 35.7,21.6 C35.7,21.6 38.5,29.2 39.5,30.9 C40.5,32.6 40.9,32.0 41.7,31.7 C42.5,31.4 43.7,30.6 44.4,29.2 C45.1,27.8 45.6,25.2 46.1,23.2 C46.6,21.2 46.4,18.2 47.2,17.2 C48.0,16.2 49.7,16.3 51.0,17.2 C52.3,18.1 53.5,21.6 54.8,22.7 C56.1,23.8 57.5,24.3 58.6,23.8 C59.7,23.3 60.8,21.8 61.4,19.9 C62.0,18.0 61.6,13.6 62.3,12.3 C63.0,11.0 64.8,11.2 65.5,12.3 C66.2,13.4 65.8,17.1 66.8,18.8 C67.8,20.5 69.5,22.3 71.2,22.7 C72.9,23.1 75.1,22.1 76.7,21.0 C78.3,19.9 80.1,16.7 81.1,16.1 C82.1,15.5 83.2,16.2 82.7,17.2 C82.2,18.2 79.2,20.8 78.3,22.1 C77.4,23.4 77.0,24.9 77.5,24.9 C78.0,24.9 79.6,23.0 81.1,22.3 C82.6,21.6 85.1,20.4 86.5,20.5 C87.9,20.6 89.3,21.9 89.3,22.7 C89.3,23.5 87.9,24.5 86.5,25.4 C85.1,26.2 82.7,26.7 81.1,27.8 C79.5,28.9 77.6,30.9 76.9,32.0 C76.2,33.1 76.7,34.3 77.2,34.7 C77.8,35.1 79.2,35.1 80.2,34.5 C81.2,33.9 82.5,30.4 83.2,30.9 C83.9,31.4 84.9,35.8 84.6,37.4 C84.2,39.0 82.0,39.1 81.1,40.2 C80.2,41.3 79.4,42.5 79.4,44.0 C79.4,45.5 81.1,47.9 81.1,49.5 C81.1,51.1 80.3,52.8 79.4,53.8 C78.5,54.8 76.9,55.4 75.6,55.5 C74.3,55.6 72.9,54.1 71.8,54.4 C70.7,54.7 70.9,55.8 69.0,57.1 C67.1,58.4 63.6,60.6 60.3,62.0 C57.0,63.4 52.9,64.8 49.3,65.3 C45.6,65.8 42.0,65.4 38.4,64.8 C34.8,64.2 31.1,63.1 27.5,61.5 C23.9,59.9 19.6,57.1 16.5,54.9 C13.4,52.7 10.9,50.4 8.9,48.4 C6.9,46.4 5.1,44.4 4.5,42.9 C3.9,41.4 4.5,40.3 5.1,39.6 C5.7,38.9 7.0,38.4 8.3,38.5 C9.6,38.6 12.3,40.6 12.7,40.2 C13.1,39.8 11.1,37.5 10.5,36.3 C9.9,35.1 9.1,34.4 8.9,33.1 C8.7,31.8 9.6,30.1 9.4,28.7 C9.2,27.3 7.9,26.1 7.8,24.9 C7.7,23.6 6.8,20.9 8.9,21.2Z" fill="#f3e7e1" stroke="#8d9097" stroke-width="1.4" stroke-linejoin="round"/><circle cx="5.06" cy="19.9" r="4.1" fill="#f3e7e1" stroke="#8d9097" stroke-width="1.4"/><circle cx="48.8" cy="14.5" r="2.7" fill="#f3e7e1" stroke="#8d9097" stroke-width="1.4"/><circle cx="63.3" cy="5.9" r="5.9" fill="#f3e7e1" stroke="#8d9097" stroke-width="1.4"/><circle cx="83.2" cy="12.8" r="3.8" fill="#f3e7e1" stroke="#8d9097" stroke-width="1.4"/><circle cx="87.6" cy="32.5" r="5.2" fill="#f3e7e1" stroke="#8d9097" stroke-width="1.4"/><path d="M35.1,34.1 q4.5,-2 8.8,-1.1 q-3.2,2.4 -8.8,1.1z" fill="none" stroke="#8d9097" stroke-width="1"/></g>
<circle cx="588.0" cy="518.6" r="4.3" fill="#eabc5a" stroke="#e3b352" stroke-width="0.6"/>
<circle cx="589.6" cy="519.7" r="1.2" fill="#f6d88c"/>
<circle cx="586.9" cy="520.2" r="1.2" fill="#f6d88c"/>
<circle cx="586.4" cy="517.5" r="1.2" fill="#f6d88c"/>
<circle cx="589.1" cy="517.0" r="1.2" fill="#f6d88c"/>
<circle cx="601.4" cy="524.0" r="4.3" fill="#eabc5a" stroke="#e3b352" stroke-width="0.6"/>
<circle cx="603.0" cy="525.1" r="1.2" fill="#f6d88c"/>
<circle cx="600.3" cy="525.6" r="1.2" fill="#f6d88c"/>
<circle cx="599.8" cy="522.9" r="1.2" fill="#f6d88c"/>
<circle cx="602.5" cy="522.4" r="1.2" fill="#f6d88c"/>
<circle cx="575.5" cy="531.2" r="4.3" fill="#eabc5a" stroke="#e3b352" stroke-width="0.6"/>
<circle cx="577.1" cy="532.3" r="1.2" fill="#f6d88c"/>
<circle cx="574.4" cy="532.8" r="1.2" fill="#f6d88c"/>
<circle cx="573.9" cy="530.1" r="1.2" fill="#f6d88c"/>
<circle cx="576.6" cy="529.6" r="1.2" fill="#f6d88c"/>
<circle cx="567.4" cy="537.8" r="4.3" fill="#eabc5a" stroke="#e3b352" stroke-width="0.6"/>
<circle cx="569.0" cy="538.9" r="1.2" fill="#f6d88c"/>
<circle cx="566.3" cy="539.4" r="1.2" fill="#f6d88c"/>
<circle cx="565.8" cy="536.7" r="1.2" fill="#f6d88c"/>
<circle cx="568.5" cy="536.2" r="1.2" fill="#f6d88c"/>
<circle cx="582.1" cy="544.2" r="4.3" fill="#eabc5a" stroke="#e3b352" stroke-width="0.6"/>
<circle cx="583.7" cy="545.3" r="1.2" fill="#f6d88c"/>
<circle cx="581.0" cy="545.8" r="1.2" fill="#f6d88c"/>
<circle cx="580.5" cy="543.1" r="1.2" fill="#f6d88c"/>
<circle cx="583.2" cy="542.6" r="1.2" fill="#f6d88c"/>
<circle cx="593.0" cy="545.8" r="4.3" fill="#eabc5a" stroke="#e3b352" stroke-width="0.6"/>
<circle cx="594.6" cy="546.9" r="1.2" fill="#f6d88c"/>
<circle cx="591.9" cy="547.4" r="1.2" fill="#f6d88c"/>
<circle cx="591.4" cy="544.7" r="1.2" fill="#f6d88c"/>
<circle cx="594.1" cy="544.2" r="1.2" fill="#f6d88c"/>
<circle cx="630.9" cy="538.7" r="4.3" fill="#eabc5a" stroke="#e3b352" stroke-width="0.6"/>
<circle cx="632.5" cy="539.8" r="1.2" fill="#f6d88c"/>
<circle cx="629.8" cy="540.3" r="1.2" fill="#f6d88c"/>
<circle cx="629.3" cy="537.6" r="1.2" fill="#f6d88c"/>
<circle cx="632.0" cy="537.1" r="1.2" fill="#f6d88c"/>
<circle cx="640.2" cy="546.4" r="4.3" fill="#eabc5a" stroke="#e3b352" stroke-width="0.6"/>
<circle cx="641.8" cy="547.5" r="1.2" fill="#f6d88c"/>
<circle cx="639.1" cy="548.0" r="1.2" fill="#f6d88c"/>
<circle cx="638.6" cy="545.3" r="1.2" fill="#f6d88c"/>
<circle cx="641.3" cy="544.8" r="1.2" fill="#f6d88c"/>
<g transform="translate(609.5,605.4) rotate(0)"><ellipse rx="28.6" ry="27.5" fill="url(#nucg)" stroke="#b57b72" stroke-width="1.2"/><path d="M-24.6,1.4 A25.2,24.2 0 0 1 7.2,-23.6 A30.0,28.9 0 0 0 -24.6,1.4Z" fill="#e9bdb0" opacity="0.7" filter="url(#blur1)"/></g>
<defs><path id="c8" d="M449.0,774.1 C440.1,774.1 432.9,775.4 424.9,778.1 C416.9,780.8 408.4,786.1 400.8,790.1 C393.2,794.1 384.5,797.3 379.4,802.2 C374.3,807.1 372.0,812.6 370.1,819.5 C368.2,826.4 368.2,832.9 368.2,843.6 C368.2,854.3 370.5,870.3 370.1,883.7 C369.7,897.1 367.6,911.3 366.0,923.8 C364.4,936.3 361.4,949.7 360.7,958.6 C360.0,967.5 359.3,971.9 362.0,977.3 C364.7,982.6 368.9,987.4 376.7,990.7 C384.5,994.1 396.8,995.7 408.8,997.4 C420.9,999.1 435.6,1000.7 449.0,1000.9 C462.4,1001.1 478.9,1000.6 489.1,998.7 C499.4,996.8 505.4,993.9 510.5,989.4 C515.6,984.9 518.2,980.7 519.8,972.0 C521.3,963.3 519.6,949.7 519.8,937.2 C520.0,924.7 520.5,909.6 521.2,897.1 C521.9,884.6 523.4,872.5 523.8,862.3 C524.1,852.0 524.6,844.1 523.3,835.6 C522.0,827.1 519.3,818.6 515.8,811.5 C512.3,804.4 508.6,798.4 502.4,792.8 C496.2,787.2 487.3,781.2 478.4,778.1 C469.5,775.0 457.9,774.1 449.0,774.1Z"/><clipPath id="kc8"><use href="#c8"/></clipPath></defs>
<use href="#c8" fill="url(#cellg)"/>
<g clip-path="url(#kc8)" fill="none"><use href="#c8" stroke="#f8ccb0" stroke-width="12" opacity="0.8" filter="url(#blur4)" transform="translate(-3,-11)"/><use href="#c8" stroke="#f9d2b8" stroke-width="7" opacity="0.5" filter="url(#blur3)"/><use href="#c8" stroke="#fff3ea" stroke-width="9" opacity="0.9" filter="url(#blur4)" transform="translate(7,6)"/></g>
<use href="#c8" fill="none" stroke="#dba59b" stroke-width="2.4" stroke-linejoin="round"/>
<defs><path id="c9" d="M279.2,770.4 C271.7,770.7 263.4,770.9 256.7,772.7 C249.9,774.5 244.3,777.2 238.7,781.2 C233.1,785.2 227.3,791.0 223.0,797.0 C218.7,803.0 215.5,810.1 212.9,817.2 C210.3,824.3 208.6,831.8 207.7,839.7 C206.8,847.6 206.7,855.8 207.2,864.4 C207.7,873.0 209.1,881.9 210.6,891.3 C212.1,900.7 214.5,911.2 216.2,920.6 C217.9,930.0 219.0,939.6 220.7,947.5 C222.4,955.4 223.3,961.4 226.3,967.8 C229.3,974.2 233.6,981.0 238.7,985.7 C243.8,990.4 249.8,993.6 256.7,995.8 C263.6,998.0 271.6,998.6 280.2,998.9 C288.8,999.2 299.6,998.7 308.0,997.6 C316.4,996.5 324.4,996.0 330.8,992.5 C337.2,989.0 342.9,983.1 346.6,976.7 C350.4,970.3 351.6,962.5 353.3,954.3 C355.0,946.1 355.6,937.0 356.7,927.3 C357.8,917.5 359.4,906.3 360.1,895.8 C360.9,885.3 361.6,874.1 361.2,864.4 C360.8,854.7 359.7,846.0 357.8,837.4 C355.9,828.8 353.3,820.2 349.9,812.7 C346.5,805.2 342.3,798.1 337.6,792.5 C332.9,786.9 327.9,782.6 321.9,779.0 C315.9,775.4 308.7,772.5 301.6,771.1 C294.5,769.7 286.7,770.1 279.2,770.4Z"/><clipPath id="kc9"><use href="#c9"/></clipPath></defs>
<use href="#c9" fill="url(#cellg)"/>
<g clip-path="url(#kc9)" fill="none"><use href="#c9" stroke="#f8ccb0" stroke-width="12" opacity="0.8" filter="url(#blur4)" transform="translate(-3,-11)"/><use href="#c9" stroke="#f9d2b8" stroke-width="7" opacity="0.5" filter="url(#blur3)"/><use href="#c9" stroke="#fff3ea" stroke-width="9" opacity="0.9" filter="url(#blur4)" transform="translate(7,6)"/></g>
<use href="#c9" fill="none" stroke="#dba59b" stroke-width="2.4" stroke-linejoin="round"/>
<g filter="url(#outl)">
<path d="M541.0,866.0 C538.4,868.1 537.6,874.9 536.2,879.5 C534.8,884.1 533.2,887.9 532.6,893.9 C532.0,899.9 532.2,907.6 532.6,915.4 C533.0,923.2 534.4,932.2 535.3,940.6 C536.2,949.0 537.1,958.2 538.0,965.7 C538.9,973.2 539.7,981.0 540.7,985.5 C541.7,990.0 541.7,991.2 544.2,992.7 C546.7,994.2 551.5,993.8 555.9,994.5 C560.2,995.2 565.8,996.5 570.3,997.2 C574.8,998.0 577.8,999.1 582.9,999.0 C588.0,998.9 594.5,996.9 600.8,996.3 C607.1,995.7 614.6,995.2 620.6,995.4 C626.6,995.5 631.7,997.2 636.8,997.2 C641.9,997.2 646.6,996.8 651.1,995.4 C655.6,994.0 660.1,992.2 663.7,989.1 C667.3,986.0 670.6,981.9 672.7,976.5 C674.8,971.1 675.4,964.6 676.3,956.8 C677.2,949.0 677.8,938.8 678.1,929.8 C678.4,920.8 678.1,911.9 678.1,902.9 C678.1,893.9 678.4,882.8 678.1,875.9 C677.8,869.0 677.1,865.1 676.3,861.6 C675.4,858.1 673.0,855.0 673.0,855.0 C673.0,855.0 664.2,855.3 660.0,855.5 C655.8,855.7 651.8,855.8 648.0,856.0 C644.2,856.2 641.3,855.5 637.0,856.5 C632.7,857.5 626.8,860.6 622.0,862.0 C617.2,863.4 612.5,864.7 608.0,865.0 C603.5,865.3 599.0,864.2 595.0,864.0 C591.0,863.8 587.8,863.2 584.0,863.5 C580.2,863.8 575.2,865.2 572.0,866.0 C568.8,866.8 568.3,868.3 565.0,868.5 C561.7,868.7 556.0,867.4 552.0,867.0 C548.0,866.6 543.6,863.9 541.0,866.0Z" fill="#fcdfcb"/>
<path d="M508.7,783.7 C507.7,778.8 508.9,779.5 510.0,778.1 C511.2,776.7 513.5,775.8 515.6,775.4 C517.7,774.9 520.5,774.5 522.6,775.4 C524.7,776.2 526.4,777.2 528.1,780.2 C529.9,783.2 531.5,788.7 533.0,793.4 C534.5,798.2 536.0,804.1 537.2,808.8 C538.3,813.4 539.0,818.4 540.0,821.3 C541.0,824.1 543.2,825.7 543.2,825.7 C543.2,825.7 545.0,820.5 546.2,818.5 C547.4,816.5 549.1,814.0 550.4,813.9 C551.8,813.8 553.4,814.7 554.3,817.8 C555.2,820.9 555.4,827.7 556.0,832.4 C556.5,837.2 556.7,841.7 557.6,846.3 C558.6,851.0 560.3,856.5 561.5,860.2 C562.8,864.0 563.9,864.9 565.0,868.6 C566.2,872.3 572.1,880.2 568.5,882.5 C564.9,884.8 548.1,883.9 543.4,882.5 C538.8,881.1 542.3,879.0 540.7,874.2 C539.0,869.3 536.3,860.5 533.7,853.3 C531.2,846.1 528.4,838.7 525.4,831.0 C522.3,823.4 518.4,815.2 515.6,807.4 C512.8,799.5 509.6,788.6 508.7,783.7Z" fill="#fcdfcb"/>
<path d="M560.8,829.6 C561.3,827.1 562.7,824.3 564.3,822.7 C565.9,821.0 568.6,819.9 570.6,819.9 C572.6,819.8 575.1,820.5 576.1,822.4 C577.2,824.2 577.2,828.0 577.1,831.0 C577.0,834.1 575.4,837.3 575.5,840.8 C575.5,844.2 576.6,848.4 577.5,851.9 C578.5,855.4 580.2,857.9 581.0,861.6 C581.8,865.3 582.2,870.7 582.4,874.2 C582.6,877.6 584.5,881.1 582.4,882.5 C580.3,883.9 572.1,883.9 569.9,882.5 C567.7,881.1 569.4,877.2 569.2,874.2 C569.0,871.1 569.3,869.1 568.5,864.4 C567.7,859.8 565.5,850.7 564.3,846.3 C563.2,841.9 562.1,840.8 561.5,838.0 C561.0,835.2 560.4,832.2 560.8,829.6Z" fill="#fcdfcb"/>
<path d="M575.5,793.4 C575.1,790.5 576.3,790.8 577.5,790.0 C578.8,789.1 581.1,788.3 583.1,788.3 C585.1,788.3 587.8,788.9 589.4,790.0 C590.9,791.1 591.5,791.9 592.4,794.8 C593.4,797.7 594.6,803.0 594.9,807.4 C595.2,811.8 594.4,817.1 594.2,821.3 C594.1,825.5 593.5,829.2 593.8,832.4 C594.2,835.7 595.6,837.3 596.3,840.8 C597.1,844.2 598.2,847.7 598.4,853.3 C598.6,858.9 598.1,869.3 597.7,874.2 C597.4,879.0 598.0,881.1 596.3,882.5 C594.7,883.9 589.1,883.9 588.0,882.5 C586.9,881.1 589.4,877.9 589.6,874.2 C589.9,870.4 589.6,864.9 589.4,860.2 C589.1,855.6 588.8,851.0 588.0,846.3 C587.2,841.7 585.7,837.1 584.5,832.4 C583.3,827.8 581.8,822.7 581.0,818.5 C580.2,814.3 580.6,811.5 579.6,807.4 C578.7,803.2 575.8,796.3 575.5,793.4Z" fill="#fcdfcb"/>
<path d="M598.4,782.3 C598.5,778.8 599.0,778.1 600.5,776.7 C602.0,775.4 605.1,774.4 607.5,774.4 C609.8,774.4 612.8,775.4 614.4,776.7 C616.0,778.1 616.2,778.8 616.9,782.3 C617.6,785.8 618.4,792.5 618.6,797.6 C618.8,802.7 618.4,808.3 617.9,812.9 C617.4,817.6 616.6,821.7 615.8,825.5 C615.0,829.2 614.2,831.7 613.0,835.2 C611.9,838.7 610.1,842.6 608.9,846.3 C607.6,850.0 606.1,852.8 605.4,857.5 C604.7,862.1 604.8,870.0 604.7,874.2 C604.6,878.3 606.3,881.1 604.7,882.5 C603.1,883.9 596.4,883.9 594.9,882.5 C593.4,881.1 595.5,879.0 595.6,874.2 C595.7,869.3 595.3,858.9 595.6,853.3 C595.9,847.7 596.5,845.4 597.4,840.8 C598.4,836.1 600.4,830.1 601.2,825.5 C602.0,820.8 602.4,817.6 602.2,812.9 C601.9,808.3 600.4,802.7 599.8,797.6 C599.2,792.5 598.3,785.8 598.4,782.3Z" fill="#fcdfcb"/>
<path d="M612.8,857.2 C613.9,852.6 617.9,843.3 619.7,836.3 C621.6,829.4 622.8,822.4 623.9,815.5 C625.1,808.5 625.5,801.5 626.7,794.6 C627.9,787.6 629.6,780.0 630.9,773.7 C632.1,767.4 632.8,760.9 634.4,757.0 C635.9,753.1 637.7,751.1 639.9,750.0 C642.1,749.0 645.9,749.6 647.6,750.7 C649.2,751.9 650.1,753.6 649.7,757.0 C649.2,760.4 646.5,766.5 644.8,770.9 C643.1,775.3 640.7,779.5 639.2,783.4 C637.7,787.4 635.7,794.6 635.7,794.6 C635.7,794.6 636.1,791.6 637.8,787.6 C639.6,783.7 643.2,776.0 646.2,770.9 C649.2,765.8 652.7,760.3 655.9,757.0 C659.2,753.8 662.4,752.1 665.7,751.4 C668.9,750.7 673.1,751.4 675.4,752.8 C677.7,754.2 679.3,757.2 679.6,759.8 C679.8,762.3 679.1,765.6 676.8,768.1 C674.5,770.7 669.1,772.5 665.7,775.1 C662.2,777.6 658.7,780.2 655.9,783.4 C653.1,786.7 651.2,790.9 649.0,794.6 C646.7,798.3 644.1,802.2 642.6,805.7 C641.0,809.2 640.5,811.5 639.5,815.5 C638.5,819.4 637.6,824.7 636.7,829.4 C635.8,834.0 634.5,839.3 633.9,843.3 C633.4,847.2 633.4,849.5 633.4,853.0 C633.3,856.5 637.1,862.3 633.7,864.2 C630.2,866.0 616.3,865.3 612.8,864.2 C609.3,863.0 611.6,861.8 612.8,857.2Z" fill="#fcdfcb"/>
<path d="M643.4,811.3 C643.7,808.6 643.7,807.5 644.4,806.4 C645.0,805.3 646.3,804.4 647.3,804.7 C648.3,805.1 649.8,805.8 650.4,808.5 C650.9,811.2 650.6,821.0 650.6,821.0 C650.6,821.0 653.5,813.4 654.5,808.5 C655.5,803.6 656.0,796.0 656.6,791.8 C657.2,787.6 656.7,785.4 658.0,783.4 C659.3,781.5 662.1,780.0 664.3,780.0 C666.4,780.0 670.0,781.0 671.0,783.4 C671.9,785.9 670.8,790.4 670.1,794.6 C669.5,798.8 668.3,803.9 667.1,808.5 C665.8,813.1 664.2,817.8 662.9,822.4 C661.5,827.1 660.0,831.7 659.0,836.3 C658.0,841.0 657.2,845.6 656.8,850.2 C656.4,854.9 659.8,861.8 656.6,864.2 C653.5,866.5 640.3,865.8 637.8,864.2 C635.4,862.5 640.7,857.4 641.7,854.4 C642.8,851.4 643.9,849.1 644.2,846.1 C644.6,843.1 644.0,840.3 643.7,836.3 C643.4,832.4 642.3,826.6 642.3,822.4 C642.2,818.2 643.1,813.9 643.4,811.3Z" fill="#fcdfcb"/>
<path d="M658.7,848.9 C660.3,843.1 664.5,835.2 666.8,829.4 C669.1,823.6 671.0,819.4 672.6,814.1 C674.2,808.7 675.5,802.9 676.5,797.4 C677.5,791.8 677.7,785.3 678.5,780.7 C679.2,776.0 679.7,772.0 681.0,769.5 C682.2,767.1 684.0,766.3 685.8,766.1 C687.7,765.8 690.7,766.6 692.1,768.1 C693.5,769.6 694.4,772.3 694.2,775.1 C694.0,777.9 691.8,781.6 690.7,784.8 C689.7,788.1 687.9,794.6 687.9,794.6 C687.9,794.6 690.7,791.3 693.5,787.6 C696.3,783.9 701.1,776.7 704.6,772.3 C708.1,767.9 711.1,763.5 714.4,761.2 C717.6,758.9 721.3,758.2 724.1,758.4 C726.9,758.6 729.6,760.5 731.1,762.6 C732.6,764.7 733.6,768.1 733.2,770.9 C732.7,773.7 730.7,777.0 728.3,779.3 C725.9,781.6 722.0,782.5 718.5,784.8 C715.1,787.2 711.1,789.9 707.4,793.2 C703.7,796.4 699.3,801.5 696.3,804.3 C693.3,807.1 690.9,808.3 689.3,809.9 C687.7,811.5 686.5,814.1 686.5,814.1 C686.5,814.1 691.6,812.2 693.5,812.0 C695.4,811.7 697.1,811.6 697.7,812.7 C698.3,813.7 697.9,816.1 697.0,818.2 C696.0,820.3 694.1,822.6 692.1,825.2 C690.1,827.7 687.2,830.8 685.1,833.5 C683.1,836.3 681.2,839.1 679.6,841.9 C678.0,844.7 676.3,847.7 675.4,850.2 C674.5,852.8 673.8,854.9 674.0,857.2 C674.2,859.5 679.6,863.0 676.8,864.2 C674.0,865.3 660.3,866.7 657.3,864.2 C654.3,861.6 657.1,854.7 658.7,848.9Z" fill="#fcdfcb"/>
</g>
<clipPath id="kbody"><path d="M541.0,866.0 C538.4,868.1 537.6,874.9 536.2,879.5 C534.8,884.1 533.2,887.9 532.6,893.9 C532.0,899.9 532.2,907.6 532.6,915.4 C533.0,923.2 534.4,932.2 535.3,940.6 C536.2,949.0 537.1,958.2 538.0,965.7 C538.9,973.2 539.7,981.0 540.7,985.5 C541.7,990.0 541.7,991.2 544.2,992.7 C546.7,994.2 551.5,993.8 555.9,994.5 C560.2,995.2 565.8,996.5 570.3,997.2 C574.8,998.0 577.8,999.1 582.9,999.0 C588.0,998.9 594.5,996.9 600.8,996.3 C607.1,995.7 614.6,995.2 620.6,995.4 C626.6,995.5 631.7,997.2 636.8,997.2 C641.9,997.2 646.6,996.8 651.1,995.4 C655.6,994.0 660.1,992.2 663.7,989.1 C667.3,986.0 670.6,981.9 672.7,976.5 C674.8,971.1 675.4,964.6 676.3,956.8 C677.2,949.0 677.8,938.8 678.1,929.8 C678.4,920.8 678.1,911.9 678.1,902.9 C678.1,893.9 678.4,882.8 678.1,875.9 C677.8,869.0 677.1,865.1 676.3,861.6 C675.4,858.1 673.0,855.0 673.0,855.0 C673.0,855.0 664.2,855.3 660.0,855.5 C655.8,855.7 651.8,855.8 648.0,856.0 C644.2,856.2 641.3,855.5 637.0,856.5 C632.7,857.5 626.8,860.6 622.0,862.0 C617.2,863.4 612.5,864.7 608.0,865.0 C603.5,865.3 599.0,864.2 595.0,864.0 C591.0,863.8 587.8,863.2 584.0,863.5 C580.2,863.8 575.2,865.2 572.0,866.0 C568.8,866.8 568.3,868.3 565.0,868.5 C561.7,868.7 556.0,867.4 552.0,867.0 C548.0,866.6 543.6,863.9 541.0,866.0Z"/></clipPath>
<g clip-path="url(#kbody)" fill="none"><path d="M532.0,800.0 C521.4,816.6 536.1,863.9 536.2,879.5 C536.3,895.1 533.2,887.9 532.6,893.9 C532.0,899.9 532.2,907.6 532.6,915.4 C533.0,923.2 534.4,932.2 535.3,940.6 C536.2,949.0 537.1,958.2 538.0,965.7 C538.9,973.2 539.7,981.0 540.7,985.5 C541.7,990.0 541.7,991.2 544.2,992.7 C546.7,994.2 551.5,993.8 555.9,994.5 C560.2,995.2 565.8,996.5 570.3,997.2 C574.8,998.0 577.8,999.1 582.9,999.0 C588.0,998.9 594.5,996.9 600.8,996.3 C607.1,995.7 614.6,995.2 620.6,995.4 C626.6,995.5 631.7,997.2 636.8,997.2 C641.9,997.2 646.6,996.8 651.1,995.4 C655.6,994.0 660.1,992.2 663.7,989.1 C667.3,986.0 670.6,981.9 672.7,976.5 C674.8,971.1 675.4,964.6 676.3,956.8 C677.2,949.0 677.8,938.8 678.1,929.8 C678.4,920.8 678.1,911.9 678.1,902.9 C678.1,893.9 678.1,893.0 678.1,875.9 C678.1,858.8 691.0,816.0 678.0,800.0 C665.0,784.0 624.3,780.0 600.0,780.0 C575.7,780.0 542.6,783.4 532.0,800.0Z" stroke="#f8ccb0" stroke-width="12" opacity="0.8" filter="url(#blur4)" transform="translate(-3,-11)"/><path d="M532.0,800.0 C521.4,816.6 536.1,863.9 536.2,879.5 C536.3,895.1 533.2,887.9 532.6,893.9 C532.0,899.9 532.2,907.6 532.6,915.4 C533.0,923.2 534.4,932.2 535.3,940.6 C536.2,949.0 537.1,958.2 538.0,965.7 C538.9,973.2 539.7,981.0 540.7,985.5 C541.7,990.0 541.7,991.2 544.2,992.7 C546.7,994.2 551.5,993.8 555.9,994.5 C560.2,995.2 565.8,996.5 570.3,997.2 C574.8,998.0 577.8,999.1 582.9,999.0 C588.0,998.9 594.5,996.9 600.8,996.3 C607.1,995.7 614.6,995.2 620.6,995.4 C626.6,995.5 631.7,997.2 636.8,997.2 C641.9,997.2 646.6,996.8 651.1,995.4 C655.6,994.0 660.1,992.2 663.7,989.1 C667.3,986.0 670.6,981.9 672.7,976.5 C674.8,971.1 675.4,964.6 676.3,956.8 C677.2,949.0 677.8,938.8 678.1,929.8 C678.4,920.8 678.1,911.9 678.1,902.9 C678.1,893.9 678.1,893.0 678.1,875.9 C678.1,858.8 691.0,816.0 678.0,800.0 C665.0,784.0 624.3,780.0 600.0,780.0 C575.7,780.0 542.6,783.4 532.0,800.0Z" stroke="#fff3ea" stroke-width="9" opacity="0.9" filter="url(#blur4)" transform="translate(7,6)"/></g>
<path d="M541.0,866.0 C540.2,868.2 537.6,874.9 536.2,879.5 C534.8,884.1 533.2,887.9 532.6,893.9 C532.0,899.9 532.2,907.6 532.6,915.4 C533.0,923.2 534.4,932.2 535.3,940.6 C536.2,949.0 537.1,958.2 538.0,965.7 C538.9,973.2 539.7,981.0 540.7,985.5 C541.7,990.0 541.7,991.2 544.2,992.7 C546.7,994.2 551.5,993.8 555.9,994.5 C560.2,995.2 565.8,996.5 570.3,997.2 C574.8,998.0 577.8,999.1 582.9,999.0 C588.0,998.9 594.5,996.9 600.8,996.3 C607.1,995.7 614.6,995.2 620.6,995.4 C626.6,995.5 631.7,997.2 636.8,997.2 C641.9,997.2 646.6,996.8 651.1,995.4 C655.6,994.0 660.1,992.2 663.7,989.1 C667.3,986.0 670.6,981.9 672.7,976.5 C674.8,971.1 675.4,964.6 676.3,956.8 C677.2,949.0 677.8,938.8 678.1,929.8 C678.4,920.8 678.1,911.9 678.1,902.9 C678.1,893.9 678.4,882.8 678.1,875.9 C677.8,869.0 677.1,865.1 676.3,861.6 C675.4,858.1 673.0,855.0 673.0,855.0" fill="none" stroke="#dba59b" stroke-width="2.4"/>
<defs><path id="c10" d="M486.4,760.0 C486.9,758.7 488.7,756.6 490.6,755.9 C492.4,755.2 495.0,754.9 497.5,755.9 C500.1,756.8 503.2,759.1 505.9,761.4 C508.5,763.8 512.0,767.6 513.5,769.8 C515.0,772.0 515.3,773.6 514.9,774.7 C514.6,775.7 513.4,776.3 511.4,776.1 C509.5,775.8 506.1,774.5 503.1,773.3 C500.1,772.0 495.9,769.9 493.3,768.4 C490.8,766.9 488.9,765.6 487.8,764.2 C486.6,762.8 485.9,761.4 486.4,760.0Z"/><clipPath id="kc10"><use href="#c10"/></clipPath></defs>
<use href="#c10" fill="#fcdfcb"/>
<use href="#c10" fill="none" stroke="#dba59b" stroke-width="2.2" stroke-linejoin="round"/>
<defs><path id="c11" d="M514.9,753.1 C515.5,751.6 518.5,749.7 521.2,748.9 C523.8,748.1 527.2,747.1 530.9,748.2 C534.6,749.4 540.2,752.0 543.4,755.9 C546.7,759.7 548.9,766.8 550.4,771.2 C551.9,775.6 552.7,779.6 552.5,782.3 C552.3,785.0 550.8,787.4 549.3,787.2 C547.8,787.0 545.6,783.6 543.4,780.9 C541.3,778.3 539.3,774.2 536.5,771.2 C533.7,768.2 529.9,765.0 526.7,762.8 C523.6,760.6 519.7,759.6 517.7,758.0 C515.7,756.3 514.3,754.6 514.9,753.1Z"/><clipPath id="kc11"><use href="#c11"/></clipPath></defs>
<use href="#c11" fill="#fcdfcb"/>
<use href="#c11" fill="none" stroke="#dba59b" stroke-width="2.2" stroke-linejoin="round"/>
<defs><path id="c12" d="M553.2,762.1 C553.5,760.4 555.7,759.6 557.4,759.4 C559.0,759.1 561.3,758.8 562.9,760.7 C564.6,762.7 566.2,768.1 567.1,771.2 C568.0,774.3 568.8,777.6 568.5,779.5 C568.2,781.5 566.8,783.2 565.4,783.0 C564.0,782.8 561.8,780.3 560.1,778.1 C558.5,775.9 556.4,772.5 555.3,769.8 C554.1,767.1 552.8,763.9 553.2,762.1Z"/><clipPath id="kc12"><use href="#c12"/></clipPath></defs>
<use href="#c12" fill="#fcdfcb"/>
<use href="#c12" fill="none" stroke="#dba59b" stroke-width="2.2" stroke-linejoin="round"/>
<defs><path id="c13" d="M551.5,793.4 C551.6,792.1 552.9,791.0 553.9,790.7 C554.9,790.3 556.2,790.8 557.4,791.4 C558.5,791.9 559.9,794.2 560.8,793.7 C561.8,793.3 562.4,789.9 563.2,788.6 C564.0,787.3 564.7,785.6 565.7,785.8 C566.7,786.0 568.2,788.0 569.2,790.0 C570.2,791.9 571.0,794.5 571.6,797.6 C572.1,800.8 572.8,805.6 572.7,808.8 C572.5,811.9 571.4,814.9 570.6,816.4 C569.8,817.9 569.1,818.0 567.8,817.8 C566.5,817.6 564.7,816.8 562.9,815.0 C561.2,813.3 559.0,810.0 557.4,807.4 C555.7,804.7 554.2,801.3 553.2,799.0 C552.2,796.7 551.4,794.8 551.5,793.4Z"/><clipPath id="kc13"><use href="#c13"/></clipPath></defs>
<use href="#c13" fill="#fcdfcb"/>
<use href="#c13" fill="none" stroke="#dba59b" stroke-width="2.2" stroke-linejoin="round"/>
<defs><path id="c14" d="M578.2,746.1 C578.6,742.5 579.9,742.1 581.0,741.3 C582.2,740.5 584.0,740.5 585.2,741.3 C586.4,742.1 587.7,742.5 588.3,746.1 C588.8,749.7 588.8,757.5 588.7,762.8 C588.5,768.2 588.0,774.5 587.3,778.1 C586.5,781.7 585.1,784.2 584.1,784.4 C583.0,784.6 581.9,783.1 581.0,779.5 C580.2,775.9 579.4,768.4 578.9,762.8 C578.5,757.3 577.9,749.7 578.2,746.1Z"/><clipPath id="kc14"><use href="#c14"/></clipPath></defs>
<use href="#c14" fill="#fcdfcb"/>
<use href="#c14" fill="none" stroke="#dba59b" stroke-width="2.2" stroke-linejoin="round"/>
<defs><path id="c15" d="M607.5,761.4 C607.6,758.8 608.5,754.9 609.5,753.1 C610.6,751.3 612.4,750.5 613.7,750.6 C615.0,750.7 616.8,752.0 617.5,753.8 C618.2,755.6 618.3,758.8 617.9,761.4 C617.5,764.1 616.2,768.0 615.1,769.8 C614.1,771.6 612.7,772.4 611.6,772.3 C610.5,772.2 609.3,770.9 608.6,769.1 C607.9,767.3 607.3,764.1 607.5,761.4Z"/><clipPath id="kc15"><use href="#c15"/></clipPath></defs>
<use href="#c15" fill="#fcdfcb"/>
<use href="#c15" fill="none" stroke="#dba59b" stroke-width="2.2" stroke-linejoin="round"/>
<defs><path id="c16" d="M689.3,759.8 C689.6,757.7 691.6,753.8 693.5,750.0 C695.4,746.3 697.9,740.7 700.5,737.5 C703.0,734.4 706.7,731.7 708.8,731.3 C710.9,730.8 712.6,732.8 713.3,734.7 C713.9,736.7 713.9,740.0 712.7,743.1 C711.5,746.2 708.6,750.6 706.0,753.5 C703.4,756.5 699.3,759.3 697.0,760.9 C694.6,762.5 693.1,763.0 691.8,762.9 C690.6,762.7 689.0,761.9 689.3,759.8Z"/><clipPath id="kc16"><use href="#c16"/></clipPath></defs>
<use href="#c16" fill="#fcdfcb"/>
<use href="#c16" fill="none" stroke="#dba59b" stroke-width="2.2" stroke-linejoin="round"/>
<defs><path id="c17" d="M716.5,741.0 C716.9,740.0 718.2,738.2 719.9,736.8 C721.7,735.4 724.9,733.2 726.9,732.7 C728.9,732.1 730.8,732.7 731.8,733.3 C732.7,734.0 733.0,735.6 732.5,736.8 C731.9,738.0 730.1,739.5 728.3,740.6 C726.4,741.6 723.2,742.7 721.3,743.1 C719.5,743.5 718.0,743.4 717.2,743.1 C716.3,742.7 716.0,742.0 716.5,741.0Z"/><clipPath id="kc17"><use href="#c17"/></clipPath></defs>
<use href="#c17" fill="#fcdfcb"/>
<use href="#c17" fill="none" stroke="#dba59b" stroke-width="2.2" stroke-linejoin="round"/>
<defs><path id="c18" d="M702.5,809.9 C702.5,808.8 704.0,807.5 706.0,806.4 C708.0,805.4 711.6,804.1 714.4,803.6 C717.2,803.2 721.0,803.2 722.7,803.6 C724.5,804.1 724.8,805.2 724.8,806.4 C724.8,807.6 724.5,809.5 722.7,810.6 C721.0,811.7 717.2,812.6 714.4,812.9 C711.6,813.3 708.0,813.5 706.0,812.9 C704.0,812.4 702.5,811.0 702.5,809.9Z"/><clipPath id="kc18"><use href="#c18"/></clipPath></defs>
<use href="#c18" fill="#fcdfcb"/>
<use href="#c18" fill="none" stroke="#dba59b" stroke-width="2.2" stroke-linejoin="round"/>
<g transform="translate(287.5,933.7) rotate(5)"><ellipse rx="28.1" ry="24.2" fill="url(#nucg)" stroke="#b57b72" stroke-width="1.2"/><path d="M-24.2,1.2 A24.7,21.3 0 0 1 7.0,-20.8 A29.5,25.4 0 0 0 -24.2,1.2Z" fill="#e9bdb0" opacity="0.7" filter="url(#blur1)"/></g>
<g transform="translate(447.1,935.1) rotate(5)"><ellipse rx="34.1" ry="24.1" fill="url(#nucg)" stroke="#b57b72" stroke-width="1.2"/><path d="M-29.3,1.2 A30.0,21.2 0 0 1 8.5,-20.7 A35.8,25.3 0 0 0 -29.3,1.2Z" fill="#e9bdb0" opacity="0.7" filter="url(#blur1)"/></g>
<circle cx="427.6" cy="800.8" r="6.7" fill="#f1d68c" stroke="#ecd088" stroke-width="0.8"/>
<circle cx="427.6" cy="800.8" r="1.8" fill="#fcf0c8"/>
<circle cx="431.3" cy="801.9" r="1.8" fill="#fcf0c8"/>
<circle cx="428.5" cy="804.6" r="1.8" fill="#fcf0c8"/>
<circle cx="424.7" cy="803.4" r="1.8" fill="#fcf0c8"/>
<circle cx="423.9" cy="799.7" r="1.8" fill="#fcf0c8"/>
<circle cx="426.7" cy="797.0" r="1.8" fill="#fcf0c8"/>
<circle cx="430.5" cy="798.2" r="1.8" fill="#fcf0c8"/>
<circle cx="449.8" cy="813.7" r="7.2" fill="#e7ba52" stroke="#dfb04c" stroke-width="0.8"/>
<circle cx="449.8" cy="813.7" r="1.9" fill="#f8df9c"/>
<circle cx="453.8" cy="814.9" r="1.9" fill="#f8df9c"/>
<circle cx="450.7" cy="817.8" r="1.9" fill="#f8df9c"/>
<circle cx="446.7" cy="816.5" r="1.9" fill="#f8df9c"/>
<circle cx="445.8" cy="812.5" r="1.9" fill="#f8df9c"/>
<circle cx="448.9" cy="809.6" r="1.9" fill="#f8df9c"/>
<circle cx="452.9" cy="810.9" r="1.9" fill="#f8df9c"/>
<circle cx="475.7" cy="809.4" r="8.5" fill="#e7ba52" stroke="#dfb04c" stroke-width="0.8"/>
<circle cx="475.7" cy="809.4" r="2.3" fill="#f8df9c"/>
<circle cx="480.4" cy="810.9" r="2.3" fill="#f8df9c"/>
<circle cx="476.8" cy="814.2" r="2.3" fill="#f8df9c"/>
<circle cx="472.1" cy="812.8" r="2.3" fill="#f8df9c"/>
<circle cx="471.0" cy="807.9" r="2.3" fill="#f8df9c"/>
<circle cx="474.6" cy="804.6" r="2.3" fill="#f8df9c"/>
<circle cx="479.3" cy="806.0" r="2.3" fill="#f8df9c"/>
<circle cx="492.6" cy="828.4" r="8.0" fill="#e7ba52" stroke="#dfb04c" stroke-width="0.8"/>
<circle cx="492.6" cy="828.4" r="2.2" fill="#f8df9c"/>
<circle cx="497.0" cy="829.8" r="2.2" fill="#f8df9c"/>
<circle cx="493.6" cy="832.9" r="2.2" fill="#f8df9c"/>
<circle cx="489.2" cy="831.6" r="2.2" fill="#f8df9c"/>
<circle cx="488.2" cy="827.0" r="2.2" fill="#f8df9c"/>
<circle cx="491.6" cy="823.9" r="2.2" fill="#f8df9c"/>
<circle cx="496.0" cy="825.2" r="2.2" fill="#f8df9c"/>
<circle cx="389.6" cy="832.1" r="6.7" fill="#f1d68c" stroke="#ecd088" stroke-width="0.8"/>
<circle cx="389.6" cy="832.1" r="1.8" fill="#fcf0c8"/>
<circle cx="393.3" cy="833.2" r="1.8" fill="#fcf0c8"/>
<circle cx="390.5" cy="835.9" r="1.8" fill="#fcf0c8"/>
<circle cx="386.7" cy="834.7" r="1.8" fill="#fcf0c8"/>
<circle cx="385.9" cy="831.0" r="1.8" fill="#fcf0c8"/>
<circle cx="388.7" cy="828.3" r="1.8" fill="#fcf0c8"/>
<circle cx="392.5" cy="829.5" r="1.8" fill="#fcf0c8"/>
<circle cx="411.5" cy="821.7" r="4.8" fill="#eabc5a" stroke="#e3b352" stroke-width="0.6"/>
<circle cx="413.3" cy="822.9" r="1.3" fill="#f6d88c"/>
<circle cx="410.3" cy="823.5" r="1.3" fill="#f6d88c"/>
<circle cx="409.7" cy="820.5" r="1.3" fill="#f6d88c"/>
<circle cx="412.7" cy="819.9" r="1.3" fill="#f6d88c"/>
<g transform="translate(487.3,834.2) scale(-0.98,0.98) rotate(12 46 33)"><path d="M8.9,21.2 C11.0,21.5 20.4,26.7 20.4,26.7 C20.4,26.7 23.1,18.8 23.1,18.8 C23.1,18.8 32.4,27.6 32.4,27.6 C32.4,27.6 35.7,21.6 35.7,21.6 C35.7,21.6 38.5,29.2 39.5,30.9 C40.5,32.6 40.9,32.0 41.7,31.7 C42.5,31.4 43.7,30.6 44.4,29.2 C45.1,27.8 45.6,25.2 46.1,23.2 C46.6,21.2 46.4,18.2 47.2,17.2 C48.0,16.2 49.7,16.3 51.0,17.2 C52.3,18.1 53.5,21.6 54.8,22.7 C56.1,23.8 57.5,24.3 58.6,23.8 C59.7,23.3 60.8,21.8 61.4,19.9 C62.0,18.0 61.6,13.6 62.3,12.3 C63.0,11.0 64.8,11.2 65.5,12.3 C66.2,13.4 65.8,17.1 66.8,18.8 C67.8,20.5 69.5,22.3 71.2,22.7 C72.9,23.1 75.1,22.1 76.7,21.0 C78.3,19.9 80.1,16.7 81.1,16.1 C82.1,15.5 83.2,16.2 82.7,17.2 C82.2,18.2 79.2,20.8 78.3,22.1 C77.4,23.4 77.0,24.9 77.5,24.9 C78.0,24.9 79.6,23.0 81.1,22.3 C82.6,21.6 85.1,20.4 86.5,20.5 C87.9,20.6 89.3,21.9 89.3,22.7 C89.3,23.5 87.9,24.5 86.5,25.4 C85.1,26.2 82.7,26.7 81.1,27.8 C79.5,28.9 77.6,30.9 76.9,32.0 C76.2,33.1 76.7,34.3 77.2,34.7 C77.8,35.1 79.2,35.1 80.2,34.5 C81.2,33.9 82.5,30.4 83.2,30.9 C83.9,31.4 84.9,35.8 84.6,37.4 C84.2,39.0 82.0,39.1 81.1,40.2 C80.2,41.3 79.4,42.5 79.4,44.0 C79.4,45.5 81.1,47.9 81.1,49.5 C81.1,51.1 80.3,52.8 79.4,53.8 C78.5,54.8 76.9,55.4 75.6,55.5 C74.3,55.6 72.9,54.1 71.8,54.4 C70.7,54.7 70.9,55.8 69.0,57.1 C67.1,58.4 63.6,60.6 60.3,62.0 C57.0,63.4 52.9,64.8 49.3,65.3 C45.6,65.8 42.0,65.4 38.4,64.8 C34.8,64.2 31.1,63.1 27.5,61.5 C23.9,59.9 19.6,57.1 16.5,54.9 C13.4,52.7 10.9,50.4 8.9,48.4 C6.9,46.4 5.1,44.4 4.5,42.9 C3.9,41.4 4.5,40.3 5.1,39.6 C5.7,38.9 7.0,38.4 8.3,38.5 C9.6,38.6 12.3,40.6 12.7,40.2 C13.1,39.8 11.1,37.5 10.5,36.3 C9.9,35.1 9.1,34.4 8.9,33.1 C8.7,31.8 9.6,30.1 9.4,28.7 C9.2,27.3 7.9,26.1 7.8,24.9 C7.7,23.6 6.8,20.9 8.9,21.2Z" fill="#f3e7e1" stroke="#8d9097" stroke-width="1.4" stroke-linejoin="round"/><circle cx="5.06" cy="19.9" r="4.1" fill="#f3e7e1" stroke="#8d9097" stroke-width="1.4"/><circle cx="48.8" cy="14.5" r="2.7" fill="#f3e7e1" stroke="#8d9097" stroke-width="1.4"/><circle cx="63.3" cy="5.9" r="5.9" fill="#f3e7e1" stroke="#8d9097" stroke-width="1.4"/><circle cx="83.2" cy="12.8" r="3.8" fill="#f3e7e1" stroke="#8d9097" stroke-width="1.4"/><circle cx="87.6" cy="32.5" r="5.2" fill="#f3e7e1" stroke="#8d9097" stroke-width="1.4"/><path d="M35.1,34.1 q4.5,-2 8.8,-1.1 q-3.2,2.4 -8.8,1.1z" fill="none" stroke="#8d9097" stroke-width="1"/></g>
<circle cx="460.5" cy="844.1" r="4.2" fill="#eabc5a" stroke="#e3b352" stroke-width="0.6"/>
<circle cx="462.1" cy="845.2" r="1.1" fill="#f6d88c"/>
<circle cx="459.4" cy="845.7" r="1.1" fill="#f6d88c"/>
<circle cx="458.9" cy="843.0" r="1.1" fill="#f6d88c"/>
<circle cx="461.6" cy="842.5" r="1.1" fill="#f6d88c"/>
<circle cx="449.5" cy="851.6" r="4.2" fill="#eabc5a" stroke="#e3b352" stroke-width="0.6"/>
<circle cx="451.1" cy="852.7" r="1.1" fill="#f6d88c"/>
<circle cx="448.4" cy="853.2" r="1.1" fill="#f6d88c"/>
<circle cx="447.9" cy="850.5" r="1.1" fill="#f6d88c"/>
<circle cx="450.6" cy="850.0" r="1.1" fill="#f6d88c"/>
<circle cx="485.3" cy="857.5" r="4.2" fill="#eabc5a" stroke="#e3b352" stroke-width="0.6"/>
<circle cx="486.9" cy="858.6" r="1.1" fill="#f6d88c"/>
<circle cx="484.2" cy="859.1" r="1.1" fill="#f6d88c"/>
<circle cx="483.7" cy="856.4" r="1.1" fill="#f6d88c"/>
<circle cx="486.4" cy="855.9" r="1.1" fill="#f6d88c"/>
<circle cx="473.0" cy="867.1" r="4.2" fill="#eabc5a" stroke="#e3b352" stroke-width="0.6"/>
<circle cx="474.6" cy="868.2" r="1.1" fill="#f6d88c"/>
<circle cx="471.9" cy="868.7" r="1.1" fill="#f6d88c"/>
<circle cx="471.4" cy="866.0" r="1.1" fill="#f6d88c"/>
<circle cx="474.1" cy="865.5" r="1.1" fill="#f6d88c"/>
<circle cx="463.1" cy="871.7" r="4.2" fill="#eabc5a" stroke="#e3b352" stroke-width="0.6"/>
<circle cx="464.7" cy="872.8" r="1.1" fill="#f6d88c"/>
<circle cx="462.0" cy="873.3" r="1.1" fill="#f6d88c"/>
<circle cx="461.5" cy="870.6" r="1.1" fill="#f6d88c"/>
<circle cx="464.2" cy="870.1" r="1.1" fill="#f6d88c"/>
<circle cx="424.4" cy="873.6" r="4.2" fill="#eabc5a" stroke="#e3b352" stroke-width="0.6"/>
<circle cx="426.0" cy="874.7" r="1.1" fill="#f6d88c"/>
<circle cx="423.3" cy="875.2" r="1.1" fill="#f6d88c"/>
<circle cx="422.8" cy="872.5" r="1.1" fill="#f6d88c"/>
<circle cx="425.5" cy="872.0" r="1.1" fill="#f6d88c"/>
<circle cx="416.9" cy="882.4" r="4.2" fill="#eabc5a" stroke="#e3b352" stroke-width="0.6"/>
<circle cx="418.5" cy="883.5" r="1.1" fill="#f6d88c"/>
<circle cx="415.8" cy="884.0" r="1.1" fill="#f6d88c"/>
<circle cx="415.3" cy="881.3" r="1.1" fill="#f6d88c"/>
<circle cx="418.0" cy="880.8" r="1.1" fill="#f6d88c"/>
<circle cx="483.7" cy="879.2" r="4.2" fill="#eabc5a" stroke="#e3b352" stroke-width="0.6"/>
<circle cx="485.3" cy="880.3" r="1.1" fill="#f6d88c"/>
<circle cx="482.6" cy="880.8" r="1.1" fill="#f6d88c"/>
<circle cx="482.1" cy="878.1" r="1.1" fill="#f6d88c"/>
<circle cx="484.8" cy="877.6" r="1.1" fill="#f6d88c"/>
<circle cx="441.7" cy="892.6" r="4.2" fill="#eabc5a" stroke="#e3b352" stroke-width="0.6"/>
<circle cx="443.3" cy="893.7" r="1.1" fill="#f6d88c"/>
<circle cx="440.6" cy="894.2" r="1.1" fill="#f6d88c"/>
<circle cx="440.1" cy="891.5" r="1.1" fill="#f6d88c"/>
<circle cx="442.8" cy="891.0" r="1.1" fill="#f6d88c"/>
<g transform="translate(566.0,859.4) scale(1.0,1.0)"><path d="M8.9,21.2 C11.0,21.5 20.4,26.7 20.4,26.7 C20.4,26.7 23.1,18.8 23.1,18.8 C23.1,18.8 32.4,27.6 32.4,27.6 C32.4,27.6 35.7,21.6 35.7,21.6 C35.7,21.6 38.5,29.2 39.5,30.9 C40.5,32.6 40.9,32.0 41.7,31.7 C42.5,31.4 43.7,30.6 44.4,29.2 C45.1,27.8 45.6,25.2 46.1,23.2 C46.6,21.2 46.4,18.2 47.2,17.2 C48.0,16.2 49.7,16.3 51.0,17.2 C52.3,18.1 53.5,21.6 54.8,22.7 C56.1,23.8 57.5,24.3 58.6,23.8 C59.7,23.3 60.8,21.8 61.4,19.9 C62.0,18.0 61.6,13.6 62.3,12.3 C63.0,11.0 64.8,11.2 65.5,12.3 C66.2,13.4 65.8,17.1 66.8,18.8 C67.8,20.5 69.5,22.3 71.2,22.7 C72.9,23.1 75.1,22.1 76.7,21.0 C78.3,19.9 80.1,16.7 81.1,16.1 C82.1,15.5 83.2,16.2 82.7,17.2 C82.2,18.2 79.2,20.8 78.3,22.1 C77.4,23.4 77.0,24.9 77.5,24.9 C78.0,24.9 79.6,23.0 81.1,22.3 C82.6,21.6 85.1,20.4 86.5,20.5 C87.9,20.6 89.3,21.9 89.3,22.7 C89.3,23.5 87.9,24.5 86.5,25.4 C85.1,26.2 82.7,26.7 81.1,27.8 C79.5,28.9 77.6,30.9 76.9,32.0 C76.2,33.1 76.7,34.3 77.2,34.7 C77.8,35.1 79.2,35.1 80.2,34.5 C81.2,33.9 82.5,30.4 83.2,30.9 C83.9,31.4 84.9,35.8 84.6,37.4 C84.2,39.0 82.0,39.1 81.1,40.2 C80.2,41.3 79.4,42.5 79.4,44.0 C79.4,45.5 81.1,47.9 81.1,49.5 C81.1,51.1 80.3,52.8 79.4,53.8 C78.5,54.8 76.9,55.4 75.6,55.5 C74.3,55.6 72.9,54.1 71.8,54.4 C70.7,54.7 70.9,55.8 69.0,57.1 C67.1,58.4 63.6,60.6 60.3,62.0 C57.0,63.4 52.9,64.8 49.3,65.3 C45.6,65.8 42.0,65.4 38.4,64.8 C34.8,64.2 31.1,63.1 27.5,61.5 C23.9,59.9 19.6,57.1 16.5,54.9 C13.4,52.7 10.9,50.4 8.9,48.4 C6.9,46.4 5.1,44.4 4.5,42.9 C3.9,41.4 4.5,40.3 5.1,39.6 C5.7,38.9 7.0,38.4 8.3,38.5 C9.6,38.6 12.3,40.6 12.7,40.2 C13.1,39.8 11.1,37.5 10.5,36.3 C9.9,35.1 9.1,34.4 8.9,33.1 C8.7,31.8 9.6,30.1 9.4,28.7 C9.2,27.3 7.9,26.1 7.8,24.9 C7.7,23.6 6.8,20.9 8.9,21.2Z" fill="#f3e7e1" stroke="#8d9097" stroke-width="1.4" stroke-linejoin="round"/><circle cx="5.06" cy="19.9" r="4.1" fill="#f3e7e1" stroke="#8d9097" stroke-width="1.4"/><circle cx="48.8" cy="14.5" r="2.7" fill="#f3e7e1" stroke="#8d9097" stroke-width="1.4"/><circle cx="63.3" cy="5.9" r="5.9" fill="#f3e7e1" stroke="#8d9097" stroke-width="1.4"/><circle cx="83.2" cy="12.8" r="3.8" fill="#f3e7e1" stroke="#8d9097" stroke-width="1.4"/><circle cx="87.6" cy="32.5" r="5.2" fill="#f3e7e1" stroke="#8d9097" stroke-width="1.4"/><path d="M35.1,34.1 q4.5,-2 8.8,-1.1 q-3.2,2.4 -8.8,1.1z" fill="none" stroke="#8d9097" stroke-width="1"/></g>
<circle cx="549.6" cy="859.8" r="6.0" fill="#e7ba52" stroke="#dfb04c" stroke-width="0.8"/>
<circle cx="549.6" cy="859.8" r="1.6" fill="#f8df9c"/>
<circle cx="552.9" cy="860.8" r="1.6" fill="#f8df9c"/>
<circle cx="550.4" cy="863.2" r="1.6" fill="#f8df9c"/>
<circle cx="547.0" cy="862.2" r="1.6" fill="#f8df9c"/>
<circle cx="546.3" cy="858.8" r="1.6" fill="#f8df9c"/>
<circle cx="548.8" cy="856.4" r="1.6" fill="#f8df9c"/>
<circle cx="552.2" cy="857.4" r="1.6" fill="#f8df9c"/>
<circle cx="555.0" cy="888.1" r="6.8" fill="#e7ba52" stroke="#dfb04c" stroke-width="0.8"/>
<circle cx="555.0" cy="888.1" r="1.8" fill="#f8df9c"/>
<circle cx="558.8" cy="889.3" r="1.8" fill="#f8df9c"/>
<circle cx="555.9" cy="891.9" r="1.8" fill="#f8df9c"/>
<circle cx="552.1" cy="890.8" r="1.8" fill="#f8df9c"/>
<circle cx="551.2" cy="886.9" r="1.8" fill="#f8df9c"/>
<circle cx="554.1" cy="884.3" r="1.8" fill="#f8df9c"/>
<circle cx="557.9" cy="885.4" r="1.8" fill="#f8df9c"/>
<circle cx="597.6" cy="848.6" r="5.0" fill="#eabc5a" stroke="#e3b352" stroke-width="0.6"/>
<circle cx="599.5" cy="849.9" r="1.4" fill="#f6d88c"/>
<circle cx="596.3" cy="850.5" r="1.4" fill="#f6d88c"/>
<circle cx="595.7" cy="847.3" r="1.4" fill="#f6d88c"/>
<circle cx="598.9" cy="846.7" r="1.4" fill="#f6d88c"/>
<circle cx="623.8" cy="852.6" r="6.3" fill="#e7ba52" stroke="#dfb04c" stroke-width="0.8"/>
<circle cx="623.8" cy="852.6" r="1.7" fill="#f8df9c"/>
<circle cx="627.3" cy="853.7" r="1.7" fill="#f8df9c"/>
<circle cx="624.6" cy="856.2" r="1.7" fill="#f8df9c"/>
<circle cx="621.1" cy="855.1" r="1.7" fill="#f8df9c"/>
<circle cx="620.3" cy="851.5" r="1.7" fill="#f8df9c"/>
<circle cx="623.0" cy="849.0" r="1.7" fill="#f8df9c"/>
<circle cx="626.5" cy="850.1" r="1.7" fill="#f8df9c"/>
<circle cx="662.8" cy="868.4" r="4.5" fill="#eabc5a" stroke="#e3b352" stroke-width="0.6"/>
<circle cx="664.5" cy="869.5" r="1.2" fill="#f6d88c"/>
<circle cx="661.7" cy="870.1" r="1.2" fill="#f6d88c"/>
<circle cx="661.1" cy="867.3" r="1.2" fill="#f6d88c"/>
<circle cx="663.9" cy="866.7" r="1.2" fill="#f6d88c"/>
<circle cx="543.9" cy="840.9" r="6.0" fill="#e7ba52" stroke="#dfb04c" stroke-width="0.8"/>
<circle cx="543.9" cy="840.9" r="1.6" fill="#f8df9c"/>
<circle cx="547.2" cy="841.9" r="1.6" fill="#f8df9c"/>
<circle cx="544.7" cy="844.3" r="1.6" fill="#f8df9c"/>
<circle cx="541.3" cy="843.3" r="1.6" fill="#f8df9c"/>
<circle cx="540.6" cy="839.9" r="1.6" fill="#f8df9c"/>
<circle cx="543.1" cy="837.5" r="1.6" fill="#f8df9c"/>
<circle cx="546.5" cy="838.5" r="1.6" fill="#f8df9c"/>
<circle cx="588.8" cy="875.4" r="4.6" fill="#eabc5a" stroke="#e3b352" stroke-width="0.6"/>
<circle cx="590.5" cy="876.6" r="1.2" fill="#f6d88c"/>
<circle cx="587.6" cy="877.1" r="1.2" fill="#f6d88c"/>
<circle cx="587.1" cy="874.2" r="1.2" fill="#f6d88c"/>
<circle cx="590.0" cy="873.7" r="1.2" fill="#f6d88c"/>
<circle cx="601.7" cy="880.4" r="4.6" fill="#eabc5a" stroke="#e3b352" stroke-width="0.6"/>
<circle cx="603.4" cy="881.6" r="1.2" fill="#f6d88c"/>
<circle cx="600.5" cy="882.1" r="1.2" fill="#f6d88c"/>
<circle cx="600.0" cy="879.2" r="1.2" fill="#f6d88c"/>
<circle cx="602.9" cy="878.7" r="1.2" fill="#f6d88c"/>
<circle cx="575.3" cy="887.1" r="4.6" fill="#eabc5a" stroke="#e3b352" stroke-width="0.6"/>
<circle cx="577.0" cy="888.3" r="1.2" fill="#f6d88c"/>
<circle cx="574.1" cy="888.8" r="1.2" fill="#f6d88c"/>
<circle cx="573.6" cy="885.9" r="1.2" fill="#f6d88c"/>
<circle cx="576.5" cy="885.4" r="1.2" fill="#f6d88c"/>
<circle cx="567.6" cy="893.5" r="4.6" fill="#eabc5a" stroke="#e3b352" stroke-width="0.6"/>
<circle cx="569.3" cy="894.7" r="1.2" fill="#f6d88c"/>
<circle cx="566.4" cy="895.2" r="1.2" fill="#f6d88c"/>
<circle cx="565.9" cy="892.3" r="1.2" fill="#f6d88c"/>
<circle cx="568.8" cy="891.8" r="1.2" fill="#f6d88c"/>
<circle cx="581.4" cy="900.2" r="4.6" fill="#eabc5a" stroke="#e3b352" stroke-width="0.6"/>
<circle cx="583.1" cy="901.4" r="1.2" fill="#f6d88c"/>
<circle cx="580.2" cy="901.9" r="1.2" fill="#f6d88c"/>
<circle cx="579.7" cy="899.0" r="1.2" fill="#f6d88c"/>
<circle cx="582.6" cy="898.5" r="1.2" fill="#f6d88c"/>
<circle cx="592.7" cy="902.0" r="4.6" fill="#eabc5a" stroke="#e3b352" stroke-width="0.6"/>
<circle cx="594.4" cy="903.2" r="1.2" fill="#f6d88c"/>
<circle cx="591.5" cy="903.7" r="1.2" fill="#f6d88c"/>
<circle cx="591.0" cy="900.8" r="1.2" fill="#f6d88c"/>
<circle cx="593.9" cy="900.3" r="1.2" fill="#f6d88c"/>
<circle cx="631.0" cy="895.3" r="4.6" fill="#eabc5a" stroke="#e3b352" stroke-width="0.6"/>
<circle cx="632.7" cy="896.5" r="1.2" fill="#f6d88c"/>
<circle cx="629.8" cy="897.0" r="1.2" fill="#f6d88c"/>
<circle cx="629.3" cy="894.1" r="1.2" fill="#f6d88c"/>
<circle cx="632.2" cy="893.6" r="1.2" fill="#f6d88c"/>
<circle cx="640.4" cy="902.3" r="4.6" fill="#eabc5a" stroke="#e3b352" stroke-width="0.6"/>
<circle cx="642.1" cy="903.5" r="1.2" fill="#f6d88c"/>
<circle cx="639.2" cy="904.0" r="1.2" fill="#f6d88c"/>
<circle cx="638.7" cy="901.1" r="1.2" fill="#f6d88c"/>
<circle cx="641.6" cy="900.6" r="1.2" fill="#f6d88c"/>
<g transform="translate(609.5,961.6) rotate(0)"><ellipse rx="28.6" ry="27.0" fill="url(#nucg)" stroke="#b57b72" stroke-width="1.2"/><path d="M-24.6,1.4 A25.2,23.8 0 0 1 7.2,-23.2 A30.0,28.4 0 0 0 -24.6,1.4Z" fill="#e9bdb0" opacity="0.7" filter="url(#blur1)"/></g>
<circle cx="521.5" cy="790.0" r="7.0" fill="#e7ba52" stroke="#dfb04c" stroke-width="0.8"/>
<circle cx="521.5" cy="790.0" r="1.9" fill="#f8df9c"/>
<circle cx="525.3" cy="791.2" r="1.9" fill="#f8df9c"/>
<circle cx="522.4" cy="793.9" r="1.9" fill="#f8df9c"/>
<circle cx="518.5" cy="792.7" r="1.9" fill="#f8df9c"/>
<circle cx="517.6" cy="788.8" r="1.9" fill="#f8df9c"/>
<circle cx="520.6" cy="786.0" r="1.9" fill="#f8df9c"/>
<circle cx="524.4" cy="787.2" r="1.9" fill="#f8df9c"/>
<circle cx="530.5" cy="811.5" r="4.2" fill="#eabc5a" stroke="#e3b352" stroke-width="0.6"/>
<circle cx="532.1" cy="812.6" r="1.1" fill="#f6d88c"/>
<circle cx="529.4" cy="813.1" r="1.1" fill="#f6d88c"/>
<circle cx="529.0" cy="810.5" r="1.1" fill="#f6d88c"/>
<circle cx="531.6" cy="810.0" r="1.1" fill="#f6d88c"/>
<circle cx="543.9" cy="839.0" r="6.3" fill="#e7ba52" stroke="#dfb04c" stroke-width="0.8"/>
<circle cx="543.9" cy="839.0" r="1.7" fill="#f8df9c"/>
<circle cx="547.3" cy="840.0" r="1.7" fill="#f8df9c"/>
<circle cx="544.7" cy="842.5" r="1.7" fill="#f8df9c"/>
<circle cx="541.2" cy="841.4" r="1.7" fill="#f8df9c"/>
<circle cx="540.4" cy="837.9" r="1.7" fill="#f8df9c"/>
<circle cx="543.1" cy="835.4" r="1.7" fill="#f8df9c"/>
<circle cx="546.5" cy="836.5" r="1.7" fill="#f8df9c"/>
<circle cx="549.7" cy="859.8" r="5.8" fill="#e7ba52" stroke="#dfb04c" stroke-width="0.8"/>
<circle cx="549.7" cy="859.8" r="1.6" fill="#f8df9c"/>
<circle cx="552.9" cy="860.8" r="1.6" fill="#f8df9c"/>
<circle cx="550.5" cy="863.1" r="1.6" fill="#f8df9c"/>
<circle cx="547.2" cy="862.1" r="1.6" fill="#f8df9c"/>
<circle cx="546.5" cy="858.8" r="1.6" fill="#f8df9c"/>
<circle cx="549.0" cy="856.5" r="1.6" fill="#f8df9c"/>
<circle cx="552.2" cy="857.5" r="1.6" fill="#f8df9c"/>
<circle cx="568.5" cy="832.4" r="4.9" fill="#eabc5a" stroke="#e3b352" stroke-width="0.6"/>
<circle cx="570.3" cy="833.6" r="1.3" fill="#f6d88c"/>
<circle cx="567.3" cy="834.2" r="1.3" fill="#f6d88c"/>
<circle cx="566.7" cy="831.2" r="1.3" fill="#f6d88c"/>
<circle cx="569.7" cy="830.6" r="1.3" fill="#f6d88c"/>
<circle cx="584.5" cy="798.3" r="4.2" fill="#eabc5a" stroke="#e3b352" stroke-width="0.6"/>
<circle cx="586.0" cy="799.4" r="1.1" fill="#f6d88c"/>
<circle cx="583.4" cy="799.9" r="1.1" fill="#f6d88c"/>
<circle cx="582.9" cy="797.3" r="1.1" fill="#f6d88c"/>
<circle cx="585.6" cy="796.8" r="1.1" fill="#f6d88c"/>
<circle cx="587.0" cy="816.7" r="4.6" fill="#eabc5a" stroke="#e3b352" stroke-width="0.6"/>
<circle cx="588.7" cy="817.9" r="1.2" fill="#f6d88c"/>
<circle cx="585.8" cy="818.4" r="1.2" fill="#f6d88c"/>
<circle cx="585.3" cy="815.5" r="1.2" fill="#f6d88c"/>
<circle cx="588.2" cy="815.0" r="1.2" fill="#f6d88c"/>
<circle cx="607.0" cy="788.6" r="4.6" fill="#eabc5a" stroke="#e3b352" stroke-width="0.6"/>
<circle cx="608.7" cy="789.7" r="1.2" fill="#f6d88c"/>
<circle cx="605.9" cy="790.3" r="1.2" fill="#f6d88c"/>
<circle cx="605.3" cy="787.4" r="1.2" fill="#f6d88c"/>
<circle cx="608.2" cy="786.9" r="1.2" fill="#f6d88c"/>
<circle cx="609.5" cy="805.6" r="6.3" fill="#e7ba52" stroke="#dfb04c" stroke-width="0.8"/>
<circle cx="609.5" cy="805.6" r="1.7" fill="#f8df9c"/>
<circle cx="613.0" cy="806.6" r="1.7" fill="#f8df9c"/>
<circle cx="610.4" cy="809.1" r="1.7" fill="#f8df9c"/>
<circle cx="606.9" cy="808.0" r="1.7" fill="#f8df9c"/>
<circle cx="606.1" cy="804.5" r="1.7" fill="#f8df9c"/>
<circle cx="608.7" cy="802.0" r="1.7" fill="#f8df9c"/>
<circle cx="612.2" cy="803.1" r="1.7" fill="#f8df9c"/>
<circle cx="597.7" cy="849.1" r="4.6" fill="#eabc5a" stroke="#e3b352" stroke-width="0.6"/>
<circle cx="599.4" cy="850.3" r="1.2" fill="#f6d88c"/>
<circle cx="596.6" cy="850.8" r="1.2" fill="#f6d88c"/>
<circle cx="596.0" cy="847.9" r="1.2" fill="#f6d88c"/>
<circle cx="598.9" cy="847.4" r="1.2" fill="#f6d88c"/>
<circle cx="622.1" cy="853.3" r="6.3" fill="#e7ba52" stroke="#dfb04c" stroke-width="0.8"/>
<circle cx="622.1" cy="853.3" r="1.7" fill="#f8df9c"/>
<circle cx="625.5" cy="854.4" r="1.7" fill="#f8df9c"/>
<circle cx="622.9" cy="856.8" r="1.7" fill="#f8df9c"/>
<circle cx="619.4" cy="855.8" r="1.7" fill="#f8df9c"/>
<circle cx="618.6" cy="852.2" r="1.7" fill="#f8df9c"/>
<circle cx="621.3" cy="849.7" r="1.7" fill="#f8df9c"/>
<circle cx="624.7" cy="850.8" r="1.7" fill="#f8df9c"/>
<circle cx="532.7" cy="760.5" r="5.3" fill="#eabc5a" stroke="#e3b352" stroke-width="0.6"/>
<circle cx="534.7" cy="761.8" r="1.4" fill="#f6d88c"/>
<circle cx="531.4" cy="762.4" r="1.4" fill="#f6d88c"/>
<circle cx="530.8" cy="759.1" r="1.4" fill="#f6d88c"/>
<circle cx="534.1" cy="758.5" r="1.4" fill="#f6d88c"/>
<circle cx="560.1" cy="768.4" r="2.5" fill="#eabc5a" stroke="#e3b352" stroke-width="0.6"/>
<circle cx="561.1" cy="769.0" r="0.7" fill="#f6d88c"/>
<circle cx="559.5" cy="769.3" r="0.7" fill="#f6d88c"/>
<circle cx="559.2" cy="767.8" r="0.7" fill="#f6d88c"/>
<circle cx="560.8" cy="767.5" r="0.7" fill="#f6d88c"/>
<circle cx="562.5" cy="802.8" r="5.3" fill="#eabc5a" stroke="#e3b352" stroke-width="0.6"/>
<circle cx="564.5" cy="804.1" r="1.4" fill="#f6d88c"/>
<circle cx="561.2" cy="804.7" r="1.4" fill="#f6d88c"/>
<circle cx="560.5" cy="801.4" r="1.4" fill="#f6d88c"/>
<circle cx="563.9" cy="800.8" r="1.4" fill="#f6d88c"/>
<circle cx="640.6" cy="759.8" r="4.2" fill="#eabc5a" stroke="#e3b352" stroke-width="0.6"/>
<circle cx="642.2" cy="760.9" r="1.1" fill="#f6d88c"/>
<circle cx="639.6" cy="761.3" r="1.1" fill="#f6d88c"/>
<circle cx="639.1" cy="758.7" r="1.1" fill="#f6d88c"/>
<circle cx="641.7" cy="758.2" r="1.1" fill="#f6d88c"/>
<circle cx="667.1" cy="761.9" r="6.7" fill="#e7ba52" stroke="#dfb04c" stroke-width="0.8"/>
<circle cx="667.1" cy="761.9" r="1.8" fill="#f8df9c"/>
<circle cx="670.8" cy="763.0" r="1.8" fill="#f8df9c"/>
<circle cx="667.9" cy="765.7" r="1.8" fill="#f8df9c"/>
<circle cx="664.2" cy="764.5" r="1.8" fill="#f8df9c"/>
<circle cx="663.4" cy="760.7" r="1.8" fill="#f8df9c"/>
<circle cx="666.2" cy="758.1" r="1.8" fill="#f8df9c"/>
<circle cx="669.9" cy="759.2" r="1.8" fill="#f8df9c"/>
<circle cx="685.8" cy="774.7" r="4.5" fill="#eabc5a" stroke="#e3b352" stroke-width="0.6"/>
<circle cx="687.5" cy="775.8" r="1.2" fill="#f6d88c"/>
<circle cx="684.7" cy="776.3" r="1.2" fill="#f6d88c"/>
<circle cx="684.2" cy="773.5" r="1.2" fill="#f6d88c"/>
<circle cx="687.0" cy="773.0" r="1.2" fill="#f6d88c"/>
<circle cx="720.6" cy="770.2" r="6.3" fill="#e7ba52" stroke="#dfb04c" stroke-width="0.8"/>
<circle cx="720.6" cy="770.2" r="1.7" fill="#f8df9c"/>
<circle cx="724.1" cy="771.3" r="1.7" fill="#f8df9c"/>
<circle cx="721.4" cy="773.8" r="1.7" fill="#f8df9c"/>
<circle cx="718.0" cy="772.7" r="1.7" fill="#f8df9c"/>
<circle cx="717.2" cy="769.2" r="1.7" fill="#f8df9c"/>
<circle cx="719.8" cy="766.7" r="1.7" fill="#f8df9c"/>
<circle cx="723.3" cy="767.8" r="1.7" fill="#f8df9c"/>
<circle cx="663.3" cy="790.4" r="4.2" fill="#eabc5a" stroke="#e3b352" stroke-width="0.6"/>
<circle cx="664.8" cy="791.5" r="1.1" fill="#f6d88c"/>
<circle cx="662.2" cy="792.0" r="1.1" fill="#f6d88c"/>
<circle cx="661.7" cy="789.3" r="1.1" fill="#f6d88c"/>
<circle cx="664.4" cy="788.9" r="1.1" fill="#f6d88c"/>
<circle cx="632.3" cy="803.2" r="5.6" fill="#e7ba52" stroke="#dfb04c" stroke-width="0.8"/>
<circle cx="632.3" cy="803.2" r="1.5" fill="#f8df9c"/>
<circle cx="635.3" cy="804.2" r="1.5" fill="#f8df9c"/>
<circle cx="633.0" cy="806.4" r="1.5" fill="#f8df9c"/>
<circle cx="629.9" cy="805.4" r="1.5" fill="#f8df9c"/>
<circle cx="629.2" cy="802.3" r="1.5" fill="#f8df9c"/>
<circle cx="631.5" cy="800.1" r="1.5" fill="#f8df9c"/>
<circle cx="634.6" cy="801.0" r="1.5" fill="#f8df9c"/>
<circle cx="679.6" cy="806.4" r="4.6" fill="#eabc5a" stroke="#e3b352" stroke-width="0.6"/>
<circle cx="681.3" cy="807.6" r="1.2" fill="#f6d88c"/>
<circle cx="678.4" cy="808.1" r="1.2" fill="#f6d88c"/>
<circle cx="677.9" cy="805.2" r="1.2" fill="#f6d88c"/>
<circle cx="680.7" cy="804.7" r="1.2" fill="#f6d88c"/>
<circle cx="677.2" cy="825.9" r="7.0" fill="#e7ba52" stroke="#dfb04c" stroke-width="0.8"/>
<circle cx="677.2" cy="825.9" r="1.9" fill="#f8df9c"/>
<circle cx="681.1" cy="827.1" r="1.9" fill="#f8df9c"/>
<circle cx="678.1" cy="829.8" r="1.9" fill="#f8df9c"/>
<circle cx="674.3" cy="828.6" r="1.9" fill="#f8df9c"/>
<circle cx="673.4" cy="824.7" r="1.9" fill="#f8df9c"/>
<circle cx="676.3" cy="822.0" r="1.9" fill="#f8df9c"/>
<circle cx="680.2" cy="823.1" r="1.9" fill="#f8df9c"/>
<circle cx="626.7" cy="829.8" r="4.6" fill="#eabc5a" stroke="#e3b352" stroke-width="0.6"/>
<circle cx="628.4" cy="831.0" r="1.2" fill="#f6d88c"/>
<circle cx="625.5" cy="831.5" r="1.2" fill="#f6d88c"/>
<circle cx="625.0" cy="828.6" r="1.2" fill="#f6d88c"/>
<circle cx="627.9" cy="828.1" r="1.2" fill="#f6d88c"/>
<circle cx="650.1" cy="829.6" r="4.6" fill="#eabc5a" stroke="#e3b352" stroke-width="0.6"/>
<circle cx="651.8" cy="830.8" r="1.2" fill="#f6d88c"/>
<circle cx="648.9" cy="831.4" r="1.2" fill="#f6d88c"/>
<circle cx="648.4" cy="828.5" r="1.2" fill="#f6d88c"/>
<circle cx="651.2" cy="827.9" r="1.2" fill="#f6d88c"/>
<circle cx="671.9" cy="838.4" r="4.6" fill="#eabc5a" stroke="#e3b352" stroke-width="0.6"/>
<circle cx="673.6" cy="839.6" r="1.2" fill="#f6d88c"/>
<circle cx="670.8" cy="840.1" r="1.2" fill="#f6d88c"/>
<circle cx="670.2" cy="837.2" r="1.2" fill="#f6d88c"/>
<circle cx="673.1" cy="836.7" r="1.2" fill="#f6d88c"/>
<circle cx="623.5" cy="853.0" r="6.3" fill="#e7ba52" stroke="#dfb04c" stroke-width="0.8"/>
<circle cx="623.5" cy="853.0" r="1.7" fill="#f8df9c"/>
<circle cx="627.0" cy="854.1" r="1.7" fill="#f8df9c"/>
<circle cx="624.3" cy="856.6" r="1.7" fill="#f8df9c"/>
<circle cx="620.8" cy="855.5" r="1.7" fill="#f8df9c"/>
<circle cx="620.0" cy="852.0" r="1.7" fill="#f8df9c"/>
<circle cx="622.7" cy="849.5" r="1.7" fill="#f8df9c"/>
<circle cx="626.2" cy="850.6" r="1.7" fill="#f8df9c"/>
<circle cx="703.5" cy="743.1" r="4.2" fill="#eabc5a" stroke="#e3b352" stroke-width="0.6"/>
<circle cx="705.1" cy="744.2" r="1.1" fill="#f6d88c"/>
<circle cx="702.5" cy="744.6" r="1.1" fill="#f6d88c"/>
<circle cx="702.0" cy="742.0" r="1.1" fill="#f6d88c"/>
<circle cx="704.6" cy="741.5" r="1.1" fill="#f6d88c"/>
<circle cx="715.8" cy="808.1" r="1.9" fill="#eabc5a" stroke="#e3b352" stroke-width="0.6"/>
<circle cx="716.5" cy="808.6" r="0.5" fill="#f6d88c"/>
<circle cx="715.3" cy="808.8" r="0.5" fill="#f6d88c"/>
<circle cx="715.0" cy="807.6" r="0.5" fill="#f6d88c"/>
<circle cx="716.3" cy="807.4" r="0.5" fill="#f6d88c"/>
<line x1="614.5" y1="38.2" x2="767.5" y2="38.2" stroke="#1a1a1a" stroke-width="2.8"/>
<line x1="627.8" y1="105.3" x2="767.5" y2="105.3" stroke="#1a1a1a" stroke-width="2.8"/>
<line x1="627.7" y1="184.5" x2="767.5" y2="184.5" stroke="#1a1a1a" stroke-width="2.8"/>
<line x1="595.9" y1="258.5" x2="767.5" y2="258.5" stroke="#1a1a1a" stroke-width="2.8"/>
<line x1="596" y1="451.3" x2="767.5" y2="451.3" stroke="#1a1a1a" stroke-width="2.8"/>
<line x1="596" y1="874.3" x2="767.5" y2="874.3" stroke="#1a1a1a" stroke-width="2.8"/>
<g opacity="0.999">
<text x="777.5" y="44.0" font-size="24" textLength="97.2" lengthAdjust="spacingAndGlyphs" stroke="#1a1a1a" stroke-width="0.3">Secretion</text>
<text x="777.5" y="109.7" font-size="24" textLength="174.0" lengthAdjust="spacingAndGlyphs" stroke="#1a1a1a" stroke-width="0.3">Secretory vesicle</text>
<text x="777.5" y="189.2" font-size="24" textLength="143.2" lengthAdjust="spacingAndGlyphs" stroke="#1a1a1a" stroke-width="0.3">Golgi complex</text>
<text x="777.1" y="263.4" font-size="24" textLength="82.4" lengthAdjust="spacingAndGlyphs" stroke="#1a1a1a" stroke-width="0.3">Nucleus</text>
<text x="777.3" y="458.0" font-size="24" textLength="191.4" lengthAdjust="spacingAndGlyphs" stroke="#1a1a1a" stroke-width="0.3">Pinched off portion</text>
<text x="777.3" y="482.7" font-size="24" textLength="219.8" lengthAdjust="spacingAndGlyphs" stroke="#1a1a1a" stroke-width="0.3">of cell is the secretion</text>
<text x="777.3" y="881.9" font-size="24" textLength="160.6" lengthAdjust="spacingAndGlyphs" stroke="#1a1a1a" stroke-width="0.3">Mature cell dies</text>
<text x="777.3" y="907.0" font-size="24" textLength="137.6" lengthAdjust="spacingAndGlyphs" stroke="#1a1a1a" stroke-width="0.3">and becomes</text>
<text x="777.3" y="931.7" font-size="24" textLength="177.0" lengthAdjust="spacingAndGlyphs" stroke="#1a1a1a" stroke-width="0.3">secretory product</text>
<text x="11.4" y="193.3" font-size="24" font-weight="bold" textLength="143.8" lengthAdjust="spacingAndGlyphs" stroke="#1a1a1a" stroke-width="0.3">(a) Merocrine</text>
<text x="51.1" y="218.6" font-size="24" font-weight="bold" textLength="102.8" lengthAdjust="spacingAndGlyphs" stroke="#1a1a1a" stroke-width="0.3">secretion</text>
<text x="11.4" y="536.1" font-size="24" font-weight="bold" textLength="135.5" lengthAdjust="spacingAndGlyphs" stroke="#1a1a1a" stroke-width="0.3">(b) Apocrine</text>
<text x="51.1" y="561.1" font-size="24" font-weight="bold" textLength="102.8" lengthAdjust="spacingAndGlyphs" stroke="#1a1a1a" stroke-width="0.3">secretion</text>
<text x="11.4" y="889.4" font-size="24" font-weight="bold" textLength="140.8" lengthAdjust="spacingAndGlyphs" stroke="#1a1a1a" stroke-width="0.3">(c) Holocrine</text>
<text x="51.1" y="914.8" font-size="24" font-weight="bold" textLength="102.8" lengthAdjust="spacingAndGlyphs" stroke="#1a1a1a" stroke-width="0.3">secretion</text>
</g>
</svg>
</body></html>
